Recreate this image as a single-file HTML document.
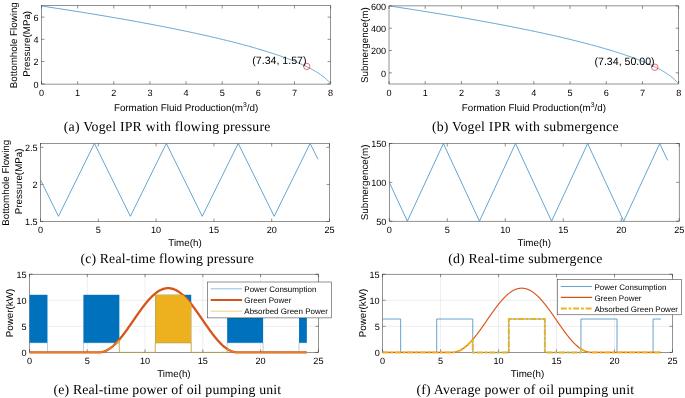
<!DOCTYPE html>
<html><head><meta charset="utf-8"><style>
html,body{margin:0;padding:0;background:#fff;}
svg{display:block;will-change:transform;}
text{font-family:"Liberation Sans", sans-serif;fill:#000;text-rendering:geometricPrecision;}
text.cap{font-family:"Liberation Serif", serif;fill:#000;}
</style></head><body>
<svg width="685" height="398" viewBox="0 0 685 398">
<rect width="685" height="398" fill="#fff"/>
<rect x="41.50" y="5.50" width="289.10" height="78.60" fill="none" stroke="#262626" stroke-width="0.5"/>
<path d="M41.50 84.10 V81.10 M41.50 5.50 V8.50" stroke="#262626" stroke-width="0.5"/>
<text x="41.50" y="93.00" font-size="9.1" text-anchor="middle" dominant-baseline="central">0</text>
<path d="M77.64 84.10 V81.10 M77.64 5.50 V8.50" stroke="#262626" stroke-width="0.5"/>
<text x="77.64" y="93.00" font-size="9.1" text-anchor="middle" dominant-baseline="central">1</text>
<path d="M113.78 84.10 V81.10 M113.78 5.50 V8.50" stroke="#262626" stroke-width="0.5"/>
<text x="113.78" y="93.00" font-size="9.1" text-anchor="middle" dominant-baseline="central">2</text>
<path d="M149.91 84.10 V81.10 M149.91 5.50 V8.50" stroke="#262626" stroke-width="0.5"/>
<text x="149.91" y="93.00" font-size="9.1" text-anchor="middle" dominant-baseline="central">3</text>
<path d="M186.05 84.10 V81.10 M186.05 5.50 V8.50" stroke="#262626" stroke-width="0.5"/>
<text x="186.05" y="93.00" font-size="9.1" text-anchor="middle" dominant-baseline="central">4</text>
<path d="M222.19 84.10 V81.10 M222.19 5.50 V8.50" stroke="#262626" stroke-width="0.5"/>
<text x="222.19" y="93.00" font-size="9.1" text-anchor="middle" dominant-baseline="central">5</text>
<path d="M258.33 84.10 V81.10 M258.33 5.50 V8.50" stroke="#262626" stroke-width="0.5"/>
<text x="258.33" y="93.00" font-size="9.1" text-anchor="middle" dominant-baseline="central">6</text>
<path d="M294.46 84.10 V81.10 M294.46 5.50 V8.50" stroke="#262626" stroke-width="0.5"/>
<text x="294.46" y="93.00" font-size="9.1" text-anchor="middle" dominant-baseline="central">7</text>
<path d="M330.60 84.10 V81.10 M330.60 5.50 V8.50" stroke="#262626" stroke-width="0.5"/>
<text x="330.60" y="93.00" font-size="9.1" text-anchor="middle" dominant-baseline="central">8</text>
<path d="M41.50 83.80 H44.50 M330.60 83.80 H327.60" stroke="#262626" stroke-width="0.5"/>
<text x="38.60" y="84.60" font-size="9.1" text-anchor="end" dominant-baseline="central">0</text>
<path d="M41.50 61.57 H44.50 M330.60 61.57 H327.60" stroke="#262626" stroke-width="0.5"/>
<text x="38.60" y="62.37" font-size="9.1" text-anchor="end" dominant-baseline="central">2</text>
<path d="M41.50 39.34 H44.50 M330.60 39.34 H327.60" stroke="#262626" stroke-width="0.5"/>
<text x="38.60" y="40.14" font-size="9.1" text-anchor="end" dominant-baseline="central">4</text>
<path d="M41.50 17.11 H44.50 M330.60 17.11 H327.60" stroke="#262626" stroke-width="0.5"/>
<text x="38.60" y="17.91" font-size="9.1" text-anchor="end" dominant-baseline="central">6</text>
<path d="M41.50 6.00 L43.66 6.32 L45.82 6.65 L47.97 6.97 L50.11 7.30 L52.24 7.62 L54.36 7.95 L56.48 8.27 L58.59 8.59 L60.69 8.92 L62.78 9.24 L64.86 9.57 L66.94 9.89 L69.01 10.21 L71.07 10.54 L73.12 10.86 L75.16 11.19 L77.20 11.51 L79.23 11.83 L81.25 12.16 L83.26 12.48 L85.26 12.81 L87.26 13.13 L89.25 13.46 L91.23 13.78 L93.20 14.10 L95.16 14.43 L97.12 14.75 L99.06 15.08 L101.00 15.40 L102.93 15.72 L104.86 16.05 L106.77 16.37 L108.68 16.70 L110.58 17.02 L112.47 17.35 L114.35 17.67 L116.23 17.99 L118.10 18.32 L119.95 18.64 L121.81 18.97 L123.65 19.29 L125.48 19.62 L127.31 19.94 L129.13 20.26 L130.94 20.59 L132.74 20.91 L134.54 21.24 L136.32 21.56 L138.10 21.88 L139.87 22.21 L141.64 22.53 L143.39 22.86 L145.14 23.18 L146.88 23.50 L148.61 23.83 L150.33 24.15 L152.04 24.48 L153.75 24.80 L155.45 25.13 L157.14 25.45 L158.82 25.77 L160.50 26.10 L162.16 26.42 L163.82 26.75 L165.47 27.07 L167.11 27.40 L168.75 27.72 L170.37 28.04 L171.99 28.37 L173.60 28.69 L175.20 29.02 L176.80 29.34 L178.38 29.66 L179.96 29.99 L181.53 30.31 L183.09 30.64 L184.65 30.96 L186.19 31.28 L187.73 31.61 L189.26 31.93 L190.78 32.26 L192.30 32.58 L193.80 32.91 L195.30 33.23 L196.79 33.55 L198.27 33.88 L199.75 34.20 L201.21 34.53 L202.67 34.85 L204.12 35.17 L205.56 35.50 L206.99 35.82 L208.42 36.15 L209.84 36.47 L211.25 36.80 L212.65 37.12 L214.04 37.44 L215.43 37.77 L216.80 38.09 L218.17 38.42 L219.53 38.74 L220.89 39.07 L222.23 39.39 L223.57 39.71 L224.90 40.04 L226.22 40.36 L227.53 40.69 L228.84 41.01 L230.13 41.33 L231.42 41.66 L232.70 41.98 L233.98 42.31 L235.24 42.63 L236.50 42.95 L237.75 43.28 L238.99 43.60 L240.22 43.93 L241.44 44.25 L242.66 44.58 L243.87 44.90 L245.07 45.22 L246.26 45.55 L247.45 45.87 L248.62 46.20 L249.79 46.52 L250.95 46.84 L252.11 47.17 L253.25 47.49 L254.39 47.82 L255.51 48.14 L256.63 48.47 L257.75 48.79 L258.85 49.11 L259.95 49.44 L261.04 49.76 L262.12 50.09 L263.19 50.41 L264.25 50.73 L265.31 51.06 L266.36 51.38 L267.40 51.71 L268.43 52.03 L269.45 52.36 L270.47 52.68 L271.48 53.00 L272.47 53.33 L273.47 53.65 L274.45 53.98 L275.43 54.30 L276.39 54.62 L277.35 54.95 L278.31 55.27 L279.25 55.60 L280.18 55.92 L281.11 56.25 L282.03 56.57 L282.94 56.89 L283.85 57.22 L284.74 57.54 L285.63 57.87 L286.51 58.19 L287.38 58.52 L288.24 58.84 L289.10 59.16 L289.95 59.49 L290.78 59.81 L291.62 60.14 L292.44 60.46 L293.25 60.78 L294.06 61.11 L294.86 61.43 L295.65 61.76 L296.43 62.08 L297.21 62.41 L297.98 62.73 L298.73 63.05 L299.49 63.38 L300.23 63.70 L300.96 64.03 L301.69 64.35 L302.41 64.67 L303.12 65.00 L303.82 65.32 L304.52 65.65 L305.20 65.97 L305.88 66.30 L306.55 66.62 L307.22 66.94 L307.87 67.27 L308.52 67.59 L309.15 67.92 L309.78 68.24 L310.41 68.56 L311.02 68.89 L311.63 69.21 L312.23 69.54 L312.82 69.86 L313.40 70.18 L313.97 70.51 L314.54 70.83 L315.10 71.16 L315.65 71.48 L316.19 71.81 L316.72 72.13 L317.25 72.45 L317.77 72.78 L318.28 73.10 L318.78 73.43 L319.27 73.75 L319.76 74.08 L320.24 74.40 L320.71 74.72 L321.17 75.05 L321.62 75.37 L322.07 75.70 L322.51 76.02 L322.93 76.34 L323.36 76.67 L323.77 76.99 L324.18 77.32 L324.57 77.64 L324.96 77.97 L325.34 78.29 L325.72 78.61 L326.08 78.94 L326.44 79.26 L326.79 79.59 L327.13 79.91 L327.46 80.23 L327.79 80.56 L328.11 80.88 L328.42 81.21 L328.72 81.53 L329.01 81.85 L329.30 82.18 L329.57 82.50 L329.84 82.83 L330.10 83.15 L330.36 83.48 L330.60 83.80" fill="none" stroke="#3f8dc3" stroke-width="0.8" stroke-linejoin="round" />
<circle cx="306.75" cy="66.35" r="3.2" fill="none" stroke="#ff0000" stroke-width="0.6"/>
<text x="252.3" y="64.0" font-size="10.6">(7.34, 1.57)</text>
<text transform="translate(16.90 45.20) rotate(-90)" font-size="9.8" text-anchor="middle">Bottomhole Flowing</text>
<text transform="translate(29.60 43.80) rotate(-90)" font-size="9.8" text-anchor="middle">Pressure(MPa)</text>
<text x="186.05" y="111.40" font-size="9.8" text-anchor="middle">Formation Fluid Production(m<tspan font-size="6.8" dy="-4.2">3</tspan><tspan dy="4.2">/d)</tspan></text>
<text x="63.78" y="131.10" class="cap" font-size="13.8" textLength="206.66" lengthAdjust="spacing">(a) Vogel IPR with flowing pressure</text>
<rect x="389.00" y="5.90" width="289.70" height="78.10" fill="none" stroke="#262626" stroke-width="0.5"/>
<path d="M389.00 84.00 V81.00 M389.00 5.90 V8.90" stroke="#262626" stroke-width="0.5"/>
<text x="389.00" y="92.90" font-size="9.1" text-anchor="middle" dominant-baseline="central">0</text>
<path d="M425.21 84.00 V81.00 M425.21 5.90 V8.90" stroke="#262626" stroke-width="0.5"/>
<text x="425.21" y="92.90" font-size="9.1" text-anchor="middle" dominant-baseline="central">1</text>
<path d="M461.43 84.00 V81.00 M461.43 5.90 V8.90" stroke="#262626" stroke-width="0.5"/>
<text x="461.43" y="92.90" font-size="9.1" text-anchor="middle" dominant-baseline="central">2</text>
<path d="M497.64 84.00 V81.00 M497.64 5.90 V8.90" stroke="#262626" stroke-width="0.5"/>
<text x="497.64" y="92.90" font-size="9.1" text-anchor="middle" dominant-baseline="central">3</text>
<path d="M533.85 84.00 V81.00 M533.85 5.90 V8.90" stroke="#262626" stroke-width="0.5"/>
<text x="533.85" y="92.90" font-size="9.1" text-anchor="middle" dominant-baseline="central">4</text>
<path d="M570.06 84.00 V81.00 M570.06 5.90 V8.90" stroke="#262626" stroke-width="0.5"/>
<text x="570.06" y="92.90" font-size="9.1" text-anchor="middle" dominant-baseline="central">5</text>
<path d="M606.28 84.00 V81.00 M606.28 5.90 V8.90" stroke="#262626" stroke-width="0.5"/>
<text x="606.28" y="92.90" font-size="9.1" text-anchor="middle" dominant-baseline="central">6</text>
<path d="M642.49 84.00 V81.00 M642.49 5.90 V8.90" stroke="#262626" stroke-width="0.5"/>
<text x="642.49" y="92.90" font-size="9.1" text-anchor="middle" dominant-baseline="central">7</text>
<path d="M678.70 84.00 V81.00 M678.70 5.90 V8.90" stroke="#262626" stroke-width="0.5"/>
<text x="678.70" y="92.90" font-size="9.1" text-anchor="middle" dominant-baseline="central">8</text>
<path d="M389.00 72.84 H392.00 M678.70 72.84 H675.70" stroke="#262626" stroke-width="0.5"/>
<text x="386.10" y="73.64" font-size="9.1" text-anchor="end" dominant-baseline="central">0</text>
<path d="M389.00 50.53 H392.00 M678.70 50.53 H675.70" stroke="#262626" stroke-width="0.5"/>
<text x="386.10" y="51.33" font-size="9.1" text-anchor="end" dominant-baseline="central">200</text>
<path d="M389.00 28.21 H392.00 M678.70 28.21 H675.70" stroke="#262626" stroke-width="0.5"/>
<text x="386.10" y="29.01" font-size="9.1" text-anchor="end" dominant-baseline="central">400</text>
<path d="M389.00 5.90 H392.00 M678.70 5.90 H675.70" stroke="#262626" stroke-width="0.5"/>
<text x="386.10" y="6.70" font-size="9.1" text-anchor="end" dominant-baseline="central">600</text>
<path d="M389.00 5.90 L391.17 6.23 L393.33 6.55 L395.48 6.88 L397.63 7.20 L399.76 7.53 L401.89 7.85 L404.01 8.18 L406.12 8.50 L408.23 8.83 L410.33 9.15 L412.41 9.48 L414.49 9.81 L416.57 10.13 L418.63 10.46 L420.69 10.78 L422.73 11.11 L424.77 11.43 L426.81 11.76 L428.83 12.08 L430.85 12.41 L432.85 12.73 L434.85 13.06 L436.84 13.38 L438.83 13.71 L440.80 14.04 L442.77 14.36 L444.73 14.69 L446.68 15.01 L448.63 15.34 L450.56 15.66 L452.49 15.99 L454.41 16.31 L456.32 16.64 L458.22 16.96 L460.12 17.29 L462.00 17.62 L463.88 17.94 L465.75 18.27 L467.62 18.59 L469.47 18.92 L471.32 19.24 L473.16 19.57 L474.99 19.89 L476.81 20.22 L478.63 20.54 L480.43 20.87 L482.23 21.19 L484.02 21.52 L485.80 21.85 L487.58 22.17 L489.34 22.50 L491.10 22.82 L492.85 23.15 L494.60 23.47 L496.33 23.80 L498.06 24.12 L499.77 24.45 L501.48 24.77 L503.19 25.10 L504.88 25.43 L506.57 25.75 L508.24 26.08 L509.91 26.40 L511.58 26.73 L513.23 27.05 L514.87 27.38 L516.51 27.70 L518.14 28.03 L519.76 28.35 L521.38 28.68 L522.98 29.00 L524.58 29.33 L526.17 29.66 L527.75 29.98 L529.32 30.31 L530.89 30.63 L532.45 30.96 L533.99 31.28 L535.54 31.61 L537.07 31.93 L538.59 32.26 L540.11 32.58 L541.62 32.91 L543.12 33.23 L544.61 33.56 L546.10 33.89 L547.57 34.21 L549.04 34.54 L550.50 34.86 L551.96 35.19 L553.40 35.51 L554.84 35.84 L556.27 36.16 L557.69 36.49 L559.10 36.81 L560.50 37.14 L561.90 37.47 L563.29 37.79 L564.67 38.12 L566.04 38.44 L567.40 38.77 L568.76 39.09 L570.11 39.42 L571.45 39.74 L572.78 40.07 L574.10 40.39 L575.42 40.72 L576.73 41.05 L578.03 41.37 L579.32 41.70 L580.60 42.02 L581.88 42.35 L583.14 42.67 L584.40 43.00 L585.65 43.32 L586.90 43.65 L588.13 43.97 L589.36 44.30 L590.58 44.62 L591.79 44.95 L592.99 45.28 L594.19 45.60 L595.38 45.93 L596.55 46.25 L597.72 46.58 L598.89 46.90 L600.04 47.23 L601.19 47.55 L602.33 47.88 L603.46 48.20 L604.58 48.53 L605.70 48.86 L606.80 49.18 L607.90 49.51 L608.99 49.83 L610.07 50.16 L611.15 50.48 L612.21 50.81 L613.27 51.13 L614.32 51.46 L615.36 51.78 L616.40 52.11 L617.42 52.43 L618.44 52.76 L619.45 53.09 L620.45 53.41 L621.45 53.74 L622.43 54.06 L623.41 54.39 L624.38 54.71 L625.34 55.04 L626.30 55.36 L627.24 55.69 L628.18 56.01 L629.11 56.34 L630.03 56.67 L630.94 56.99 L631.85 57.32 L632.75 57.64 L633.64 57.97 L634.52 58.29 L635.39 58.62 L636.25 58.94 L637.11 59.27 L637.96 59.59 L638.80 59.92 L639.63 60.24 L640.46 60.57 L641.28 60.90 L642.09 61.22 L642.89 61.55 L643.68 61.87 L644.46 62.20 L645.24 62.52 L646.01 62.85 L646.77 63.17 L647.52 63.50 L648.27 63.82 L649.00 64.15 L649.73 64.47 L650.45 64.80 L651.16 65.13 L651.87 65.45 L652.56 65.78 L653.25 66.10 L653.93 66.43 L654.60 66.75 L655.27 67.08 L655.92 67.40 L656.57 67.73 L657.21 68.05 L657.84 68.38 L658.47 68.71 L659.08 69.03 L659.69 69.36 L660.29 69.68 L660.88 70.01 L661.46 70.33 L662.04 70.66 L662.61 70.98 L663.16 71.31 L663.72 71.63 L664.26 71.96 L664.79 72.28 L665.32 72.61 L665.84 72.94 L666.35 73.26 L666.85 73.59 L667.35 73.91 L667.84 74.24 L668.32 74.56 L668.79 74.89 L669.25 75.21 L669.70 75.54 L670.15 75.86 L670.59 76.19 L671.02 76.52 L671.44 76.84 L671.86 77.17 L672.26 77.49 L672.66 77.82 L673.05 78.14 L673.43 78.47 L673.81 78.79 L674.17 79.12 L674.53 79.44 L674.88 79.77 L675.22 80.09 L675.56 80.42 L675.88 80.75 L676.20 81.07 L676.51 81.40 L676.81 81.72 L677.11 82.05 L677.39 82.37 L677.67 82.70 L677.94 83.02 L678.20 83.35 L678.45 83.67 L678.70 84.00" fill="none" stroke="#3f8dc3" stroke-width="0.8" stroke-linejoin="round" />
<circle cx="654.80" cy="67.26" r="3.2" fill="none" stroke="#ff0000" stroke-width="0.6"/>
<text x="594.5" y="65.0" font-size="10.6">(7.34, 50.00)</text>
<text transform="translate(367.80 45.20) rotate(-90)" font-size="9.8" text-anchor="middle">Submergence(m)</text>
<text x="533.85" y="111.40" font-size="9.8" text-anchor="middle">Formation Fluid Production(m<tspan font-size="6.8" dy="-4.2">3</tspan><tspan dy="4.2">/d)</tspan></text>
<text x="431.88" y="131.20" class="cap" font-size="13.8" textLength="186.67" lengthAdjust="spacing">(b) Vogel IPR with submergence</text>
<rect x="40.50" y="143.40" width="289.00" height="78.10" fill="none" stroke="#262626" stroke-width="0.5"/>
<path d="M40.50 221.50 V218.50 M40.50 143.40 V146.40" stroke="#262626" stroke-width="0.5"/>
<text x="40.50" y="230.40" font-size="9.1" text-anchor="middle" dominant-baseline="central">0</text>
<path d="M98.30 221.50 V218.50 M98.30 143.40 V146.40" stroke="#262626" stroke-width="0.5"/>
<text x="98.30" y="230.40" font-size="9.1" text-anchor="middle" dominant-baseline="central">5</text>
<path d="M156.10 221.50 V218.50 M156.10 143.40 V146.40" stroke="#262626" stroke-width="0.5"/>
<text x="156.10" y="230.40" font-size="9.1" text-anchor="middle" dominant-baseline="central">10</text>
<path d="M213.90 221.50 V218.50 M213.90 143.40 V146.40" stroke="#262626" stroke-width="0.5"/>
<text x="213.90" y="230.40" font-size="9.1" text-anchor="middle" dominant-baseline="central">15</text>
<path d="M271.70 221.50 V218.50 M271.70 143.40 V146.40" stroke="#262626" stroke-width="0.5"/>
<text x="271.70" y="230.40" font-size="9.1" text-anchor="middle" dominant-baseline="central">20</text>
<path d="M329.50 221.50 V218.50 M329.50 143.40 V146.40" stroke="#262626" stroke-width="0.5"/>
<text x="329.50" y="230.40" font-size="9.1" text-anchor="middle" dominant-baseline="central">25</text>
<path d="M40.50 221.50 H43.50 M329.50 221.50 H326.50" stroke="#262626" stroke-width="0.5"/>
<text x="37.60" y="222.30" font-size="9.1" text-anchor="end" dominant-baseline="central">1.5</text>
<path d="M40.50 184.42 H43.50 M329.50 184.42 H326.50" stroke="#262626" stroke-width="0.5"/>
<text x="37.60" y="185.22" font-size="9.1" text-anchor="end" dominant-baseline="central">2</text>
<path d="M40.50 147.33 H43.50 M329.50 147.33 H326.50" stroke="#262626" stroke-width="0.5"/>
<text x="37.60" y="148.13" font-size="9.1" text-anchor="end" dominant-baseline="central">2.5</text>
<path d="M40.50 179.85 L58.48 216.31 L94.43 143.40 L130.38 216.31 L166.33 143.40 L202.28 216.31 L238.23 143.40 L274.19 216.31 L310.14 143.40 L317.94 159.22" fill="none" stroke="#3f8dc3" stroke-width="0.8" stroke-linejoin="round" />
<text transform="translate(8.80 182.80) rotate(-90)" font-size="9.8" text-anchor="middle">Bottomhole Flowing</text>
<text transform="translate(21.50 181.40) rotate(-90)" font-size="9.8" text-anchor="middle">Pressure(MPa)</text>
<text x="185.00" y="245.90" font-size="9.8" text-anchor="middle">Time(h)</text>
<text x="80.38" y="263.30" class="cap" font-size="13.8" textLength="173.39" lengthAdjust="spacing">(c) Real-time flowing pressure</text>
<rect x="389.30" y="143.50" width="289.90" height="77.70" fill="none" stroke="#262626" stroke-width="0.5"/>
<path d="M389.30 221.20 V218.20 M389.30 143.50 V146.50" stroke="#262626" stroke-width="0.5"/>
<text x="389.30" y="230.10" font-size="9.1" text-anchor="middle" dominant-baseline="central">0</text>
<path d="M447.28 221.20 V218.20 M447.28 143.50 V146.50" stroke="#262626" stroke-width="0.5"/>
<text x="447.28" y="230.10" font-size="9.1" text-anchor="middle" dominant-baseline="central">5</text>
<path d="M505.26 221.20 V218.20 M505.26 143.50 V146.50" stroke="#262626" stroke-width="0.5"/>
<text x="505.26" y="230.10" font-size="9.1" text-anchor="middle" dominant-baseline="central">10</text>
<path d="M563.24 221.20 V218.20 M563.24 143.50 V146.50" stroke="#262626" stroke-width="0.5"/>
<text x="563.24" y="230.10" font-size="9.1" text-anchor="middle" dominant-baseline="central">15</text>
<path d="M621.22 221.20 V218.20 M621.22 143.50 V146.50" stroke="#262626" stroke-width="0.5"/>
<text x="621.22" y="230.10" font-size="9.1" text-anchor="middle" dominant-baseline="central">20</text>
<path d="M679.20 221.20 V218.20 M679.20 143.50 V146.50" stroke="#262626" stroke-width="0.5"/>
<text x="679.20" y="230.10" font-size="9.1" text-anchor="middle" dominant-baseline="central">25</text>
<path d="M389.30 221.20 H392.30 M679.20 221.20 H676.20" stroke="#262626" stroke-width="0.5"/>
<text x="386.40" y="222.00" font-size="9.1" text-anchor="end" dominant-baseline="central">50</text>
<path d="M389.30 182.35 H392.30 M679.20 182.35 H676.20" stroke="#262626" stroke-width="0.5"/>
<text x="386.40" y="183.15" font-size="9.1" text-anchor="end" dominant-baseline="central">100</text>
<path d="M389.30 143.50 H392.30 M679.20 143.50 H676.20" stroke="#262626" stroke-width="0.5"/>
<text x="386.40" y="144.30" font-size="9.1" text-anchor="end" dominant-baseline="central">150</text>
<path d="M389.30 182.35 L407.33 221.20 L443.40 143.50 L479.46 221.20 L515.52 143.50 L551.59 221.20 L587.65 143.50 L623.71 221.20 L659.78 143.50 L667.60 160.36" fill="none" stroke="#3f8dc3" stroke-width="0.8" stroke-linejoin="round" />
<text transform="translate(368.00 182.40) rotate(-90)" font-size="9.8" text-anchor="middle">Submergence(m)</text>
<text x="534.25" y="245.90" font-size="9.8" text-anchor="middle">Time(h)</text>
<text x="448.18" y="263.30" class="cap" font-size="13.8" textLength="154.30" lengthAdjust="spacing">(d) Real-time submergence</text>
<line x1="87.28" y1="274.20" x2="87.28" y2="352.40" stroke="#e3e3e3" stroke-width="0.6"/>
<line x1="145.06" y1="274.20" x2="145.06" y2="352.40" stroke="#e3e3e3" stroke-width="0.6"/>
<line x1="202.84" y1="274.20" x2="202.84" y2="352.40" stroke="#e3e3e3" stroke-width="0.6"/>
<line x1="260.62" y1="274.20" x2="260.62" y2="352.40" stroke="#e3e3e3" stroke-width="0.6"/>
<line x1="29.50" y1="326.33" x2="318.40" y2="326.33" stroke="#e3e3e3" stroke-width="0.6"/>
<line x1="29.50" y1="300.27" x2="318.40" y2="300.27" stroke="#e3e3e3" stroke-width="0.6"/>
<rect x="29.50" y="274.20" width="288.90" height="78.20" fill="none" stroke="#262626" stroke-width="0.5"/>
<path d="M29.50 352.40 V349.40 M29.50 274.20 V277.20" stroke="#262626" stroke-width="0.5"/>
<text x="29.50" y="361.30" font-size="9.1" text-anchor="middle" dominant-baseline="central">0</text>
<path d="M87.28 352.40 V349.40 M87.28 274.20 V277.20" stroke="#262626" stroke-width="0.5"/>
<text x="87.28" y="361.30" font-size="9.1" text-anchor="middle" dominant-baseline="central">5</text>
<path d="M145.06 352.40 V349.40 M145.06 274.20 V277.20" stroke="#262626" stroke-width="0.5"/>
<text x="145.06" y="361.30" font-size="9.1" text-anchor="middle" dominant-baseline="central">10</text>
<path d="M202.84 352.40 V349.40 M202.84 274.20 V277.20" stroke="#262626" stroke-width="0.5"/>
<text x="202.84" y="361.30" font-size="9.1" text-anchor="middle" dominant-baseline="central">15</text>
<path d="M260.62 352.40 V349.40 M260.62 274.20 V277.20" stroke="#262626" stroke-width="0.5"/>
<text x="260.62" y="361.30" font-size="9.1" text-anchor="middle" dominant-baseline="central">20</text>
<path d="M318.40 352.40 V349.40 M318.40 274.20 V277.20" stroke="#262626" stroke-width="0.5"/>
<text x="318.40" y="361.30" font-size="9.1" text-anchor="middle" dominant-baseline="central">25</text>
<path d="M29.50 352.40 H32.50 M318.40 352.40 H315.40" stroke="#262626" stroke-width="0.5"/>
<text x="26.60" y="353.20" font-size="9.1" text-anchor="end" dominant-baseline="central">0</text>
<path d="M29.50 326.33 H32.50 M318.40 326.33 H315.40" stroke="#262626" stroke-width="0.5"/>
<text x="26.60" y="327.13" font-size="9.1" text-anchor="end" dominant-baseline="central">5</text>
<path d="M29.50 300.27 H32.50 M318.40 300.27 H315.40" stroke="#262626" stroke-width="0.5"/>
<text x="26.60" y="301.07" font-size="9.1" text-anchor="end" dominant-baseline="central">10</text>
<path d="M29.50 274.20 H32.50 M318.40 274.20 H315.40" stroke="#262626" stroke-width="0.5"/>
<text x="26.60" y="275.00" font-size="9.1" text-anchor="end" dominant-baseline="central">15</text>
<rect x="29.50" y="294.79" width="17.97" height="47.96" fill="#0072BD"/>
<rect x="83.41" y="294.79" width="35.94" height="47.96" fill="#0072BD"/>
<rect x="155.29" y="294.79" width="35.94" height="47.96" fill="#0072BD"/>
<rect x="227.17" y="294.79" width="35.94" height="47.96" fill="#0072BD"/>
<rect x="299.04" y="294.79" width="7.80" height="47.96" fill="#0072BD"/>
<path d="M29.50 342.76 L47.47 342.76 L47.47 352.40 L83.41 352.40 L83.41 342.76 L119.35 342.76 L119.35 352.40 L155.29 352.40 L155.29 342.76 L191.23 342.76 L191.23 352.40 L227.17 352.40 L227.17 342.76 L263.10 342.76 L263.10 352.40 L299.04 352.40 L299.04 342.76 L306.84 342.76" fill="none" stroke="#0072BD" stroke-width="0.6" stroke-linejoin="round" opacity="0.55"/>
<path d="M29.50 352.40 L29.79 352.40 L30.08 352.40 L30.37 352.40 L30.66 352.40 L30.94 352.40 L31.23 352.40 L31.52 352.40 L31.81 352.40 L32.10 352.40 L32.39 352.40 L32.68 352.40 L32.97 352.40 L33.26 352.40 L33.54 352.40 L33.83 352.40 L34.12 352.40 L34.41 352.40 L34.70 352.40 L34.99 352.40 L35.28 352.40 L35.57 352.40 L35.86 352.40 L36.14 352.40 L36.43 352.40 L36.72 352.40 L37.01 352.40 L37.30 352.40 L37.59 352.40 L37.88 352.40 L38.17 352.40 L38.46 352.40 L38.74 352.40 L39.03 352.40 L39.32 352.40 L39.61 352.40 L39.90 352.40 L40.19 352.40 L40.48 352.40 L40.77 352.40 L41.06 352.40 L41.34 352.40 L41.63 352.40 L41.92 352.40 L42.21 352.40 L42.50 352.40 L42.79 352.40 L43.08 352.40 L43.37 352.40 L43.66 352.40 L43.95 352.40 L44.23 352.40 L44.52 352.40 L44.81 352.40 L45.10 352.40 L45.39 352.40 L45.68 352.40 L45.97 352.40 L46.26 352.40 L46.55 352.40 L46.83 352.40 L47.12 352.40 L47.41 352.40 L47.70 352.40 L47.99 352.40 L48.28 352.40 L48.57 352.40 L48.86 352.40 L49.15 352.40 L49.43 352.40 L49.72 352.40 L50.01 352.40 L50.30 352.40 L50.59 352.40 L50.88 352.40 L51.17 352.40 L51.46 352.40 L51.75 352.40 L52.03 352.40 L52.32 352.40 L52.61 352.40 L52.90 352.40 L53.19 352.40 L53.48 352.40 L53.77 352.40 L54.06 352.40 L54.35 352.40 L54.63 352.40 L54.92 352.40 L55.21 352.40 L55.50 352.40 L55.79 352.40 L56.08 352.40 L56.37 352.40 L56.66 352.40 L56.95 352.40 L57.23 352.40 L57.52 352.40 L57.81 352.40 L58.10 352.40 L58.39 352.40 L58.68 352.40 L58.97 352.40 L59.26 352.40 L59.55 352.40 L59.83 352.40 L60.12 352.40 L60.41 352.40 L60.70 352.40 L60.99 352.40 L61.28 352.40 L61.57 352.40 L61.86 352.40 L62.15 352.40 L62.43 352.40 L62.72 352.40 L63.01 352.40 L63.30 352.40 L63.59 352.40 L63.88 352.40 L64.17 352.40 L64.46 352.40 L64.75 352.40 L65.03 352.40 L65.32 352.40 L65.61 352.40 L65.90 352.40 L66.19 352.40 L66.48 352.40 L66.77 352.40 L67.06 352.40 L67.35 352.40 L67.63 352.40 L67.92 352.40 L68.21 352.40 L68.50 352.40 L68.79 352.40 L69.08 352.40 L69.37 352.40 L69.66 352.40 L69.95 352.40 L70.23 352.40 L70.52 352.40 L70.81 352.40 L71.10 352.40 L71.39 352.40 L71.68 352.40 L71.97 352.40 L72.26 352.40 L72.55 352.40 L72.83 352.40 L73.12 352.40 L73.41 352.40 L73.70 352.40 L73.99 352.40 L74.28 352.40 L74.57 352.40 L74.86 352.40 L75.15 352.40 L75.44 352.40 L75.72 352.40 L76.01 352.40 L76.30 352.40 L76.59 352.40 L76.88 352.40 L77.17 352.40 L77.46 352.40 L77.75 352.40 L78.04 352.40 L78.32 352.40 L78.61 352.40 L78.90 352.40 L79.19 352.40 L79.48 352.40 L79.77 352.40 L80.06 352.40 L80.35 352.40 L80.64 352.40 L80.92 352.40 L81.21 352.40 L81.50 352.40 L81.79 352.40 L82.08 352.40 L82.37 352.40 L82.66 352.40 L82.95 352.40 L83.24 352.40 L83.52 352.40 L83.81 352.40 L84.10 352.40 L84.39 352.40 L84.68 352.40 L84.97 352.40 L85.26 352.40 L85.55 352.40 L85.84 352.40 L86.12 352.40 L86.41 352.40 L86.70 352.40 L86.99 352.40 L87.28 352.40 L87.57 352.40 L87.86 352.40 L88.15 352.40 L88.44 352.40 L88.72 352.40 L89.01 352.40 L89.30 352.40 L89.59 352.40 L89.88 352.40 L90.17 352.40 L90.46 352.40 L90.75 352.40 L91.04 352.40 L91.32 352.40 L91.61 352.40 L91.90 352.40 L92.19 352.40 L92.48 352.40 L92.77 352.40 L93.06 352.40 L93.35 352.40 L93.64 352.40 L93.92 352.40 L94.21 352.40 L94.50 352.40 L94.79 352.40 L95.08 352.40 L95.37 352.40 L95.66 352.40 L95.95 352.40 L96.24 352.40 L96.52 352.40 L96.81 352.40 L97.10 352.40 L97.39 352.40 L97.68 352.40 L97.97 352.40 L98.26 352.40 L98.55 352.40 L98.84 352.40 L99.12 352.40 L99.41 352.39 L99.70 352.38 L99.99 352.36 L100.28 352.33 L100.57 352.30 L100.86 352.27 L101.15 352.22 L101.44 352.18 L101.72 352.13 L102.01 352.07 L102.30 352.00 L102.59 351.94 L102.88 351.86 L103.17 351.78 L103.46 351.70 L103.75 351.61 L104.04 351.51 L104.33 351.41 L104.61 351.31 L104.90 351.19 L105.19 351.08 L105.48 350.96 L105.77 350.83 L106.06 350.70 L106.35 350.56 L106.64 350.42 L106.93 350.27 L107.21 350.11 L107.50 349.96 L107.79 349.79 L108.08 349.62 L108.37 349.45 L108.66 349.27 L108.95 349.09 L109.24 348.90 L109.53 348.71 L109.81 348.51 L110.10 348.31 L110.39 348.10 L110.68 347.88 L110.97 347.67 L111.26 347.45 L111.55 347.22 L111.84 346.99 L112.13 346.75 L112.41 346.51 L112.70 346.27 L112.99 346.02 L113.28 345.76 L113.57 345.51 L113.86 345.24 L114.15 344.98 L114.44 344.71 L114.73 344.43 L115.01 344.15 L115.30 343.87 L115.59 343.58 L115.88 343.29 L116.17 342.99 L116.46 342.69 L116.75 342.39 L117.04 342.08 L117.33 341.77 L117.61 341.46 L117.90 341.14 L118.19 340.82 L118.48 340.50 L118.77 340.17 L119.06 339.84 L119.35 339.50 L119.64 339.16 L119.93 338.82 L120.21 338.48 L120.50 338.13 L120.79 337.78 L121.08 337.42 L121.37 337.07 L121.66 336.71 L121.95 336.34 L122.24 335.98 L122.53 335.61 L122.81 335.24 L123.10 334.87 L123.39 334.49 L123.68 334.11 L123.97 333.73 L124.26 333.35 L124.55 332.96 L124.84 332.58 L125.13 332.19 L125.41 331.79 L125.70 331.40 L125.99 331.01 L126.28 330.61 L126.57 330.21 L126.86 329.81 L127.15 329.41 L127.44 329.00 L127.73 328.60 L128.01 328.19 L128.30 327.78 L128.59 327.37 L128.88 326.96 L129.17 326.55 L129.46 326.14 L129.75 325.72 L130.04 325.31 L130.33 324.89 L130.61 324.48 L130.90 324.06 L131.19 323.64 L131.48 323.22 L131.77 322.81 L132.06 322.39 L132.35 321.97 L132.64 321.55 L132.93 321.13 L133.22 320.71 L133.50 320.29 L133.79 319.87 L134.08 319.45 L134.37 319.03 L134.66 318.61 L134.95 318.19 L135.24 317.77 L135.53 317.35 L135.82 316.93 L136.10 316.51 L136.39 316.09 L136.68 315.68 L136.97 315.26 L137.26 314.85 L137.55 314.43 L137.84 314.02 L138.13 313.61 L138.42 313.20 L138.70 312.79 L138.99 312.38 L139.28 311.97 L139.57 311.57 L139.86 311.16 L140.15 310.76 L140.44 310.36 L140.73 309.96 L141.02 309.57 L141.30 309.17 L141.59 308.78 L141.88 308.39 L142.17 308.00 L142.46 307.61 L142.75 307.22 L143.04 306.84 L143.33 306.46 L143.62 306.08 L143.90 305.71 L144.19 305.33 L144.48 304.96 L144.77 304.59 L145.06 304.23 L145.35 303.87 L145.64 303.51 L145.93 303.15 L146.22 302.80 L146.50 302.44 L146.79 302.10 L147.08 301.75 L147.37 301.41 L147.66 301.07 L147.95 300.74 L148.24 300.40 L148.53 300.08 L148.82 299.75 L149.10 299.43 L149.39 299.11 L149.68 298.80 L149.97 298.49 L150.26 298.18 L150.55 297.88 L150.84 297.58 L151.13 297.28 L151.42 296.99 L151.70 296.70 L151.99 296.42 L152.28 296.14 L152.57 295.87 L152.86 295.60 L153.15 295.33 L153.44 295.07 L153.73 294.81 L154.02 294.55 L154.30 294.30 L154.59 294.06 L154.88 293.82 L155.17 293.58 L155.46 293.35 L155.75 293.13 L156.04 292.90 L156.33 292.69 L156.62 292.47 L156.90 292.27 L157.19 292.06 L157.48 291.87 L157.77 291.67 L158.06 291.48 L158.35 291.30 L158.64 291.12 L158.93 290.95 L159.22 290.78 L159.50 290.62 L159.79 290.46 L160.08 290.30 L160.37 290.16 L160.66 290.01 L160.95 289.88 L161.24 289.74 L161.53 289.62 L161.82 289.49 L162.11 289.38 L162.39 289.27 L162.68 289.16 L162.97 289.06 L163.26 288.96 L163.55 288.87 L163.84 288.79 L164.13 288.71 L164.42 288.64 L164.71 288.57 L164.99 288.50 L165.28 288.45 L165.57 288.39 L165.86 288.35 L166.15 288.31 L166.44 288.27 L166.73 288.24 L167.02 288.22 L167.31 288.20 L167.59 288.18 L167.88 288.17 L168.17 288.17 L168.46 288.17 L168.75 288.18 L169.04 288.20 L169.33 288.22 L169.62 288.24 L169.91 288.27 L170.19 288.31 L170.48 288.35 L170.77 288.39 L171.06 288.45 L171.35 288.50 L171.64 288.57 L171.93 288.64 L172.22 288.71 L172.51 288.79 L172.79 288.87 L173.08 288.96 L173.37 289.06 L173.66 289.16 L173.95 289.27 L174.24 289.38 L174.53 289.49 L174.82 289.62 L175.11 289.74 L175.39 289.88 L175.68 290.01 L175.97 290.16 L176.26 290.30 L176.55 290.46 L176.84 290.62 L177.13 290.78 L177.42 290.95 L177.71 291.12 L177.99 291.30 L178.28 291.48 L178.57 291.67 L178.86 291.87 L179.15 292.06 L179.44 292.27 L179.73 292.47 L180.02 292.69 L180.31 292.90 L180.59 293.13 L180.88 293.35 L181.17 293.58 L181.46 293.82 L181.75 294.06 L182.04 294.30 L182.33 294.55 L182.62 294.81 L182.91 295.07 L183.19 295.33 L183.48 295.60 L183.77 295.87 L184.06 296.14 L184.35 296.42 L184.64 296.70 L184.93 296.99 L185.22 297.28 L185.51 297.58 L185.79 297.88 L186.08 298.18 L186.37 298.49 L186.66 298.80 L186.95 299.11 L187.24 299.43 L187.53 299.75 L187.82 300.08 L188.11 300.40 L188.40 300.74 L188.68 301.07 L188.97 301.41 L189.26 301.75 L189.55 302.10 L189.84 302.44 L190.13 302.80 L190.42 303.15 L190.71 303.51 L191.00 303.87 L191.28 304.23 L191.57 304.59 L191.86 304.96 L192.15 305.33 L192.44 305.71 L192.73 306.08 L193.02 306.46 L193.31 306.84 L193.60 307.22 L193.88 307.61 L194.17 308.00 L194.46 308.39 L194.75 308.78 L195.04 309.17 L195.33 309.57 L195.62 309.96 L195.91 310.36 L196.20 310.76 L196.48 311.16 L196.77 311.57 L197.06 311.97 L197.35 312.38 L197.64 312.79 L197.93 313.20 L198.22 313.61 L198.51 314.02 L198.80 314.43 L199.08 314.85 L199.37 315.26 L199.66 315.68 L199.95 316.09 L200.24 316.51 L200.53 316.93 L200.82 317.35 L201.11 317.77 L201.40 318.19 L201.68 318.61 L201.97 319.03 L202.26 319.45 L202.55 319.87 L202.84 320.29 L203.13 320.71 L203.42 321.13 L203.71 321.55 L204.00 321.97 L204.28 322.39 L204.57 322.81 L204.86 323.22 L205.15 323.64 L205.44 324.06 L205.73 324.48 L206.02 324.89 L206.31 325.31 L206.60 325.72 L206.88 326.14 L207.17 326.55 L207.46 326.96 L207.75 327.37 L208.04 327.78 L208.33 328.19 L208.62 328.60 L208.91 329.00 L209.20 329.41 L209.48 329.81 L209.77 330.21 L210.06 330.61 L210.35 331.01 L210.64 331.40 L210.93 331.79 L211.22 332.19 L211.51 332.58 L211.80 332.96 L212.08 333.35 L212.37 333.73 L212.66 334.11 L212.95 334.49 L213.24 334.87 L213.53 335.24 L213.82 335.61 L214.11 335.98 L214.40 336.34 L214.68 336.71 L214.97 337.07 L215.26 337.42 L215.55 337.78 L215.84 338.13 L216.13 338.48 L216.42 338.82 L216.71 339.16 L217.00 339.50 L217.28 339.84 L217.57 340.17 L217.86 340.50 L218.15 340.82 L218.44 341.14 L218.73 341.46 L219.02 341.77 L219.31 342.08 L219.60 342.39 L219.89 342.69 L220.17 342.99 L220.46 343.29 L220.75 343.58 L221.04 343.87 L221.33 344.15 L221.62 344.43 L221.91 344.71 L222.20 344.98 L222.49 345.24 L222.77 345.51 L223.06 345.76 L223.35 346.02 L223.64 346.27 L223.93 346.51 L224.22 346.75 L224.51 346.99 L224.80 347.22 L225.09 347.45 L225.37 347.67 L225.66 347.88 L225.95 348.10 L226.24 348.31 L226.53 348.51 L226.82 348.71 L227.11 348.90 L227.40 349.09 L227.69 349.27 L227.97 349.45 L228.26 349.62 L228.55 349.79 L228.84 349.96 L229.13 350.11 L229.42 350.27 L229.71 350.42 L230.00 350.56 L230.29 350.70 L230.57 350.83 L230.86 350.96 L231.15 351.08 L231.44 351.19 L231.73 351.31 L232.02 351.41 L232.31 351.51 L232.60 351.61 L232.89 351.70 L233.17 351.78 L233.46 351.86 L233.75 351.94 L234.04 352.00 L234.33 352.07 L234.62 352.13 L234.91 352.18 L235.20 352.22 L235.49 352.27 L235.77 352.30 L236.06 352.33 L236.35 352.36 L236.64 352.38 L236.93 352.39 L237.22 352.40 L237.51 352.40 L237.80 352.40 L238.09 352.40 L238.37 352.40 L238.66 352.40 L238.95 352.40 L239.24 352.40 L239.53 352.40 L239.82 352.40 L240.11 352.40 L240.40 352.40 L240.69 352.40 L240.97 352.40 L241.26 352.40 L241.55 352.40 L241.84 352.40 L242.13 352.40 L242.42 352.40 L242.71 352.40 L243.00 352.40 L243.29 352.40 L243.57 352.40 L243.86 352.40 L244.15 352.40 L244.44 352.40 L244.73 352.40 L245.02 352.40 L245.31 352.40 L245.60 352.40 L245.89 352.40 L246.17 352.40 L246.46 352.40 L246.75 352.40 L247.04 352.40 L247.33 352.40 L247.62 352.40 L247.91 352.40 L248.20 352.40 L248.49 352.40 L248.78 352.40 L249.06 352.40 L249.35 352.40 L249.64 352.40 L249.93 352.40 L250.22 352.40 L250.51 352.40 L250.80 352.40 L251.09 352.40 L251.38 352.40 L251.66 352.40 L251.95 352.40 L252.24 352.40 L252.53 352.40 L252.82 352.40 L253.11 352.40 L253.40 352.40 L253.69 352.40 L253.98 352.40 L254.26 352.40 L254.55 352.40 L254.84 352.40 L255.13 352.40 L255.42 352.40 L255.71 352.40 L256.00 352.40 L256.29 352.40 L256.58 352.40 L256.86 352.40 L257.15 352.40 L257.44 352.40 L257.73 352.40 L258.02 352.40 L258.31 352.40 L258.60 352.40 L258.89 352.40 L259.18 352.40 L259.46 352.40 L259.75 352.40 L260.04 352.40 L260.33 352.40 L260.62 352.40 L260.91 352.40 L261.20 352.40 L261.49 352.40 L261.78 352.40 L262.06 352.40 L262.35 352.40 L262.64 352.40 L262.93 352.40 L263.22 352.40 L263.51 352.40 L263.80 352.40 L264.09 352.40 L264.38 352.40 L264.66 352.40 L264.95 352.40 L265.24 352.40 L265.53 352.40 L265.82 352.40 L266.11 352.40 L266.40 352.40 L266.69 352.40 L266.98 352.40 L267.26 352.40 L267.55 352.40 L267.84 352.40 L268.13 352.40 L268.42 352.40 L268.71 352.40 L269.00 352.40 L269.29 352.40 L269.58 352.40 L269.86 352.40 L270.15 352.40 L270.44 352.40 L270.73 352.40 L271.02 352.40 L271.31 352.40 L271.60 352.40 L271.89 352.40 L272.18 352.40 L272.46 352.40 L272.75 352.40 L273.04 352.40 L273.33 352.40 L273.62 352.40 L273.91 352.40 L274.20 352.40 L274.49 352.40 L274.78 352.40 L275.06 352.40 L275.35 352.40 L275.64 352.40 L275.93 352.40 L276.22 352.40 L276.51 352.40 L276.80 352.40 L277.09 352.40 L277.38 352.40 L277.67 352.40 L277.95 352.40 L278.24 352.40 L278.53 352.40 L278.82 352.40 L279.11 352.40 L279.40 352.40 L279.69 352.40 L279.98 352.40 L280.27 352.40 L280.55 352.40 L280.84 352.40 L281.13 352.40 L281.42 352.40 L281.71 352.40 L282.00 352.40 L282.29 352.40 L282.58 352.40 L282.87 352.40 L283.15 352.40 L283.44 352.40 L283.73 352.40 L284.02 352.40 L284.31 352.40 L284.60 352.40 L284.89 352.40 L285.18 352.40 L285.47 352.40 L285.75 352.40 L286.04 352.40 L286.33 352.40 L286.62 352.40 L286.91 352.40 L287.20 352.40 L287.49 352.40 L287.78 352.40 L288.07 352.40 L288.35 352.40 L288.64 352.40 L288.93 352.40 L289.22 352.40 L289.51 352.40 L289.80 352.40 L290.09 352.40 L290.38 352.40 L290.67 352.40 L290.95 352.40 L291.24 352.40 L291.53 352.40 L291.82 352.40 L292.11 352.40 L292.40 352.40 L292.69 352.40 L292.98 352.40 L293.27 352.40 L293.55 352.40 L293.84 352.40 L294.13 352.40 L294.42 352.40 L294.71 352.40 L295.00 352.40 L295.29 352.40 L295.58 352.40 L295.87 352.40 L296.15 352.40 L296.44 352.40 L296.73 352.40 L297.02 352.40 L297.31 352.40 L297.60 352.40 L297.89 352.40 L298.18 352.40 L298.47 352.40 L298.75 352.40 L299.04 352.40 L299.33 352.40 L299.62 352.40 L299.91 352.40 L300.20 352.40 L300.49 352.40 L300.78 352.40 L301.07 352.40 L301.35 352.40 L301.64 352.40 L301.93 352.40 L302.22 352.40 L302.51 352.40 L302.80 352.40 L303.09 352.40 L303.38 352.40 L303.67 352.40 L303.95 352.40 L304.24 352.40 L304.53 352.40 L304.82 352.40 L305.11 352.40 L305.40 352.40 L305.69 352.40 L305.98 352.40 L306.27 352.40 L306.56 352.40 L306.84 352.40" fill="none" stroke="#D95319" stroke-width="2.3" stroke-linejoin="round" />
<path d="M116.65 342.49 L116.95 342.18 L117.25 341.85 L117.55 341.53 L117.85 341.20 L118.15 340.87 L118.45 340.53 L118.75 340.19 L119.05 339.85 L119.35 339.50 L119.35 342.76 L116.65 342.76Z" fill="#EDB120"/>
<path d="M155.29 294.79 L155.59 294.79 L155.89 294.79 L156.19 294.79 L156.49 294.79 L156.78 294.79 L157.08 294.79 L157.38 294.79 L157.68 294.79 L157.98 294.79 L158.28 294.79 L158.58 294.79 L158.88 294.79 L159.18 294.79 L159.48 294.79 L159.78 294.79 L160.08 294.79 L160.38 294.79 L160.68 294.79 L160.98 294.79 L161.28 294.79 L161.58 294.79 L161.88 294.79 L162.18 294.79 L162.47 294.79 L162.77 294.79 L163.07 294.79 L163.37 294.79 L163.67 294.79 L163.97 294.79 L164.27 294.79 L164.57 294.79 L164.87 294.79 L165.17 294.79 L165.47 294.79 L165.77 294.79 L166.07 294.79 L166.37 294.79 L166.67 294.79 L166.97 294.79 L167.27 294.79 L167.57 294.79 L167.87 294.79 L168.17 294.79 L168.46 294.79 L168.76 294.79 L169.06 294.79 L169.36 294.79 L169.66 294.79 L169.96 294.79 L170.26 294.79 L170.56 294.79 L170.86 294.79 L171.16 294.79 L171.46 294.79 L171.76 294.79 L172.06 294.79 L172.36 294.79 L172.66 294.79 L172.96 294.79 L173.26 294.79 L173.56 294.79 L173.86 294.79 L174.16 294.79 L174.45 294.79 L174.75 294.79 L175.05 294.79 L175.35 294.79 L175.65 294.79 L175.95 294.79 L176.25 294.79 L176.55 294.79 L176.85 294.79 L177.15 294.79 L177.45 294.79 L177.75 294.79 L178.05 294.79 L178.35 294.79 L178.65 294.79 L178.95 294.79 L179.25 294.79 L179.55 294.79 L179.85 294.79 L180.14 294.79 L180.44 294.79 L180.74 294.79 L181.04 294.79 L181.34 294.79 L181.64 294.79 L181.94 294.79 L182.24 294.79 L182.54 294.79 L182.84 295.01 L183.14 295.28 L183.44 295.55 L183.74 295.83 L184.04 296.12 L184.34 296.41 L184.64 296.70 L184.94 297.00 L185.24 297.30 L185.54 297.61 L185.84 297.92 L186.13 298.23 L186.43 298.55 L186.73 298.88 L187.03 299.20 L187.33 299.53 L187.63 299.87 L187.93 300.21 L188.23 300.55 L188.53 300.89 L188.83 301.24 L189.13 301.59 L189.43 301.95 L189.73 302.31 L190.03 302.67 L190.33 303.04 L190.63 303.41 L190.93 303.78 L191.23 304.16 L191.23 342.76 L155.29 342.76Z" fill="#EDB120"/>
<path d="M29.50 352.40 L29.79 352.40 L30.08 352.40 L30.37 352.40 L30.66 352.40 L30.94 352.40 L31.23 352.40 L31.52 352.40 L31.81 352.40 L32.10 352.40 L32.39 352.40 L32.68 352.40 L32.97 352.40 L33.26 352.40 L33.54 352.40 L33.83 352.40 L34.12 352.40 L34.41 352.40 L34.70 352.40 L34.99 352.40 L35.28 352.40 L35.57 352.40 L35.86 352.40 L36.14 352.40 L36.43 352.40 L36.72 352.40 L37.01 352.40 L37.30 352.40 L37.59 352.40 L37.88 352.40 L38.17 352.40 L38.46 352.40 L38.74 352.40 L39.03 352.40 L39.32 352.40 L39.61 352.40 L39.90 352.40 L40.19 352.40 L40.48 352.40 L40.77 352.40 L41.06 352.40 L41.34 352.40 L41.63 352.40 L41.92 352.40 L42.21 352.40 L42.50 352.40 L42.79 352.40 L43.08 352.40 L43.37 352.40 L43.66 352.40 L43.95 352.40 L44.23 352.40 L44.52 352.40 L44.81 352.40 L45.10 352.40 L45.39 352.40 L45.68 352.40 L45.97 352.40 L46.26 352.40 L46.55 352.40 L46.83 352.40 L47.12 352.40 L47.41 352.40 L47.47 352.40 L47.47 352.40 L47.70 352.40 L47.99 352.40 L48.28 352.40 L48.57 352.40 L48.86 352.40 L49.15 352.40 L49.43 352.40 L49.72 352.40 L50.01 352.40 L50.30 352.40 L50.59 352.40 L50.88 352.40 L51.17 352.40 L51.46 352.40 L51.75 352.40 L52.03 352.40 L52.32 352.40 L52.61 352.40 L52.90 352.40 L53.19 352.40 L53.48 352.40 L53.77 352.40 L54.06 352.40 L54.35 352.40 L54.63 352.40 L54.92 352.40 L55.21 352.40 L55.50 352.40 L55.79 352.40 L56.08 352.40 L56.37 352.40 L56.66 352.40 L56.95 352.40 L57.23 352.40 L57.52 352.40 L57.81 352.40 L58.10 352.40 L58.39 352.40 L58.68 352.40 L58.97 352.40 L59.26 352.40 L59.55 352.40 L59.83 352.40 L60.12 352.40 L60.41 352.40 L60.70 352.40 L60.99 352.40 L61.28 352.40 L61.57 352.40 L61.86 352.40 L62.15 352.40 L62.43 352.40 L62.72 352.40 L63.01 352.40 L63.30 352.40 L63.59 352.40 L63.88 352.40 L64.17 352.40 L64.46 352.40 L64.75 352.40 L65.03 352.40 L65.32 352.40 L65.61 352.40 L65.90 352.40 L66.19 352.40 L66.48 352.40 L66.77 352.40 L67.06 352.40 L67.35 352.40 L67.63 352.40 L67.92 352.40 L68.21 352.40 L68.50 352.40 L68.79 352.40 L69.08 352.40 L69.37 352.40 L69.66 352.40 L69.95 352.40 L70.23 352.40 L70.52 352.40 L70.81 352.40 L71.10 352.40 L71.39 352.40 L71.68 352.40 L71.97 352.40 L72.26 352.40 L72.55 352.40 L72.83 352.40 L73.12 352.40 L73.41 352.40 L73.70 352.40 L73.99 352.40 L74.28 352.40 L74.57 352.40 L74.86 352.40 L75.15 352.40 L75.44 352.40 L75.72 352.40 L76.01 352.40 L76.30 352.40 L76.59 352.40 L76.88 352.40 L77.17 352.40 L77.46 352.40 L77.75 352.40 L78.04 352.40 L78.32 352.40 L78.61 352.40 L78.90 352.40 L79.19 352.40 L79.48 352.40 L79.77 352.40 L80.06 352.40 L80.35 352.40 L80.64 352.40 L80.92 352.40 L81.21 352.40 L81.50 352.40 L81.79 352.40 L82.08 352.40 L82.37 352.40 L82.66 352.40 L82.95 352.40 L83.24 352.40 L83.41 352.40 L83.41 352.40 L83.52 352.40 L83.81 352.40 L84.10 352.40 L84.39 352.40 L84.68 352.40 L84.97 352.40 L85.26 352.40 L85.55 352.40 L85.84 352.40 L86.12 352.40 L86.41 352.40 L86.70 352.40 L86.99 352.40 L87.28 352.40 L87.57 352.40 L87.86 352.40 L88.15 352.40 L88.44 352.40 L88.72 352.40 L89.01 352.40 L89.30 352.40 L89.59 352.40 L89.88 352.40 L90.17 352.40 L90.46 352.40 L90.75 352.40 L91.04 352.40 L91.32 352.40 L91.61 352.40 L91.90 352.40 L92.19 352.40 L92.48 352.40 L92.77 352.40 L93.06 352.40 L93.35 352.40 L93.64 352.40 L93.92 352.40 L94.21 352.40 L94.50 352.40 L94.79 352.40 L95.08 352.40 L95.37 352.40 L95.66 352.40 L95.95 352.40 L96.24 352.40 L96.52 352.40 L96.81 352.40 L97.10 352.40 L97.39 352.40 L97.68 352.40 L97.97 352.40 L98.26 352.40 L98.55 352.40 L98.84 352.40 L99.12 352.40 L99.41 352.39 L99.70 352.38 L99.99 352.36 L100.28 352.33 L100.57 352.30 L100.86 352.27 L101.15 352.22 L101.44 352.18 L101.72 352.13 L102.01 352.07 L102.30 352.00 L102.59 351.94 L102.88 351.86 L103.17 351.78 L103.46 351.70 L103.75 351.61 L104.04 351.51 L104.33 351.41 L104.61 351.31 L104.90 351.19 L105.19 351.08 L105.48 350.96 L105.77 350.83 L106.06 350.70 L106.35 350.56 L106.64 350.42 L106.93 350.27 L107.21 350.11 L107.50 349.96 L107.79 349.79 L108.08 349.62 L108.37 349.45 L108.66 349.27 L108.95 349.09 L109.24 348.90 L109.53 348.71 L109.81 348.51 L110.10 348.31 L110.39 348.10 L110.68 347.88 L110.97 347.67 L111.26 347.45 L111.55 347.22 L111.84 346.99 L112.13 346.75 L112.41 346.51 L112.70 346.27 L112.99 346.02 L113.28 345.76 L113.57 345.51 L113.86 345.24 L114.15 344.98 L114.44 344.71 L114.73 344.43 L115.01 344.15 L115.30 343.87 L115.59 343.58 L115.88 343.29 L116.17 342.99 L116.46 342.76 L116.75 342.76 L117.04 342.76 L117.33 342.76 L117.61 342.76 L117.90 342.76 L118.19 342.76 L118.48 342.76 L118.77 342.76 L119.06 342.76 L119.35 342.76 L119.35 352.40 L119.64 352.40 L119.93 352.40 L120.21 352.40 L120.50 352.40 L120.79 352.40 L121.08 352.40 L121.37 352.40 L121.66 352.40 L121.95 352.40 L122.24 352.40 L122.53 352.40 L122.81 352.40 L123.10 352.40 L123.39 352.40 L123.68 352.40 L123.97 352.40 L124.26 352.40 L124.55 352.40 L124.84 352.40 L125.13 352.40 L125.41 352.40 L125.70 352.40 L125.99 352.40 L126.28 352.40 L126.57 352.40 L126.86 352.40 L127.15 352.40 L127.44 352.40 L127.73 352.40 L128.01 352.40 L128.30 352.40 L128.59 352.40 L128.88 352.40 L129.17 352.40 L129.46 352.40 L129.75 352.40 L130.04 352.40 L130.33 352.40 L130.61 352.40 L130.90 352.40 L131.19 352.40 L131.48 352.40 L131.77 352.40 L132.06 352.40 L132.35 352.40 L132.64 352.40 L132.93 352.40 L133.22 352.40 L133.50 352.40 L133.79 352.40 L134.08 352.40 L134.37 352.40 L134.66 352.40 L134.95 352.40 L135.24 352.40 L135.53 352.40 L135.82 352.40 L136.10 352.40 L136.39 352.40 L136.68 352.40 L136.97 352.40 L137.26 352.40 L137.55 352.40 L137.84 352.40 L138.13 352.40 L138.42 352.40 L138.70 352.40 L138.99 352.40 L139.28 352.40 L139.57 352.40 L139.86 352.40 L140.15 352.40 L140.44 352.40 L140.73 352.40 L141.02 352.40 L141.30 352.40 L141.59 352.40 L141.88 352.40 L142.17 352.40 L142.46 352.40 L142.75 352.40 L143.04 352.40 L143.33 352.40 L143.62 352.40 L143.90 352.40 L144.19 352.40 L144.48 352.40 L144.77 352.40 L145.06 352.40 L145.35 352.40 L145.64 352.40 L145.93 352.40 L146.22 352.40 L146.50 352.40 L146.79 352.40 L147.08 352.40 L147.37 352.40 L147.66 352.40 L147.95 352.40 L148.24 352.40 L148.53 352.40 L148.82 352.40 L149.10 352.40 L149.39 352.40 L149.68 352.40 L149.97 352.40 L150.26 352.40 L150.55 352.40 L150.84 352.40 L151.13 352.40 L151.42 352.40 L151.70 352.40 L151.99 352.40 L152.28 352.40 L152.57 352.40 L152.86 352.40 L153.15 352.40 L153.44 352.40 L153.73 352.40 L154.02 352.40 L154.30 352.40 L154.59 352.40 L154.88 352.40 L155.17 352.40 L155.29 352.40 L155.29 342.76 L155.46 342.76 L155.75 342.76 L156.04 342.76 L156.33 342.76 L156.62 342.76 L156.90 342.76 L157.19 342.76 L157.48 342.76 L157.77 342.76 L158.06 342.76 L158.35 342.76 L158.64 342.76 L158.93 342.76 L159.22 342.76 L159.50 342.76 L159.79 342.76 L160.08 342.76 L160.37 342.76 L160.66 342.76 L160.95 342.76 L161.24 342.76 L161.53 342.76 L161.82 342.76 L162.11 342.76 L162.39 342.76 L162.68 342.76 L162.97 342.76 L163.26 342.76 L163.55 342.76 L163.84 342.76 L164.13 342.76 L164.42 342.76 L164.71 342.76 L164.99 342.76 L165.28 342.76 L165.57 342.76 L165.86 342.76 L166.15 342.76 L166.44 342.76 L166.73 342.76 L167.02 342.76 L167.31 342.76 L167.59 342.76 L167.88 342.76 L168.17 342.76 L168.46 342.76 L168.75 342.76 L169.04 342.76 L169.33 342.76 L169.62 342.76 L169.91 342.76 L170.19 342.76 L170.48 342.76 L170.77 342.76 L171.06 342.76 L171.35 342.76 L171.64 342.76 L171.93 342.76 L172.22 342.76 L172.51 342.76 L172.79 342.76 L173.08 342.76 L173.37 342.76 L173.66 342.76 L173.95 342.76 L174.24 342.76 L174.53 342.76 L174.82 342.76 L175.11 342.76 L175.39 342.76 L175.68 342.76 L175.97 342.76 L176.26 342.76 L176.55 342.76 L176.84 342.76 L177.13 342.76 L177.42 342.76 L177.71 342.76 L177.99 342.76 L178.28 342.76 L178.57 342.76 L178.86 342.76 L179.15 342.76 L179.44 342.76 L179.73 342.76 L180.02 342.76 L180.31 342.76 L180.59 342.76 L180.88 342.76 L181.17 342.76 L181.46 342.76 L181.75 342.76 L182.04 342.76 L182.33 342.76 L182.62 342.76 L182.91 342.76 L183.19 342.76 L183.48 342.76 L183.77 342.76 L184.06 342.76 L184.35 342.76 L184.64 342.76 L184.93 342.76 L185.22 342.76 L185.51 342.76 L185.79 342.76 L186.08 342.76 L186.37 342.76 L186.66 342.76 L186.95 342.76 L187.24 342.76 L187.53 342.76 L187.82 342.76 L188.11 342.76 L188.40 342.76 L188.68 342.76 L188.97 342.76 L189.26 342.76 L189.55 342.76 L189.84 342.76 L190.13 342.76 L190.42 342.76 L190.71 342.76 L191.00 342.76 L191.23 342.76 L191.23 352.40 L191.28 352.40 L191.57 352.40 L191.86 352.40 L192.15 352.40 L192.44 352.40 L192.73 352.40 L193.02 352.40 L193.31 352.40 L193.60 352.40 L193.88 352.40 L194.17 352.40 L194.46 352.40 L194.75 352.40 L195.04 352.40 L195.33 352.40 L195.62 352.40 L195.91 352.40 L196.20 352.40 L196.48 352.40 L196.77 352.40 L197.06 352.40 L197.35 352.40 L197.64 352.40 L197.93 352.40 L198.22 352.40 L198.51 352.40 L198.80 352.40 L199.08 352.40 L199.37 352.40 L199.66 352.40 L199.95 352.40 L200.24 352.40 L200.53 352.40 L200.82 352.40 L201.11 352.40 L201.40 352.40 L201.68 352.40 L201.97 352.40 L202.26 352.40 L202.55 352.40 L202.84 352.40 L203.13 352.40 L203.42 352.40 L203.71 352.40 L204.00 352.40 L204.28 352.40 L204.57 352.40 L204.86 352.40 L205.15 352.40 L205.44 352.40 L205.73 352.40 L206.02 352.40 L206.31 352.40 L206.60 352.40 L206.88 352.40 L207.17 352.40 L207.46 352.40 L207.75 352.40 L208.04 352.40 L208.33 352.40 L208.62 352.40 L208.91 352.40 L209.20 352.40 L209.48 352.40 L209.77 352.40 L210.06 352.40 L210.35 352.40 L210.64 352.40 L210.93 352.40 L211.22 352.40 L211.51 352.40 L211.80 352.40 L212.08 352.40 L212.37 352.40 L212.66 352.40 L212.95 352.40 L213.24 352.40 L213.53 352.40 L213.82 352.40 L214.11 352.40 L214.40 352.40 L214.68 352.40 L214.97 352.40 L215.26 352.40 L215.55 352.40 L215.84 352.40 L216.13 352.40 L216.42 352.40 L216.71 352.40 L217.00 352.40 L217.28 352.40 L217.57 352.40 L217.86 352.40 L218.15 352.40 L218.44 352.40 L218.73 352.40 L219.02 352.40 L219.31 352.40 L219.60 352.40 L219.89 352.40 L220.17 352.40 L220.46 352.40 L220.75 352.40 L221.04 352.40 L221.33 352.40 L221.62 352.40 L221.91 352.40 L222.20 352.40 L222.49 352.40 L222.77 352.40 L223.06 352.40 L223.35 352.40 L223.64 352.40 L223.93 352.40 L224.22 352.40 L224.51 352.40 L224.80 352.40 L225.09 352.40 L225.37 352.40 L225.66 352.40 L225.95 352.40 L226.24 352.40 L226.53 352.40 L226.82 352.40 L227.11 352.40 L227.17 352.40 L227.17 348.94 L227.40 349.09 L227.69 349.27 L227.97 349.45 L228.26 349.62 L228.55 349.79 L228.84 349.96 L229.13 350.11 L229.42 350.27 L229.71 350.42 L230.00 350.56 L230.29 350.70 L230.57 350.83 L230.86 350.96 L231.15 351.08 L231.44 351.19 L231.73 351.31 L232.02 351.41 L232.31 351.51 L232.60 351.61 L232.89 351.70 L233.17 351.78 L233.46 351.86 L233.75 351.94 L234.04 352.00 L234.33 352.07 L234.62 352.13 L234.91 352.18 L235.20 352.22 L235.49 352.27 L235.77 352.30 L236.06 352.33 L236.35 352.36 L236.64 352.38 L236.93 352.39 L237.22 352.40 L237.51 352.40 L237.80 352.40 L238.09 352.40 L238.37 352.40 L238.66 352.40 L238.95 352.40 L239.24 352.40 L239.53 352.40 L239.82 352.40 L240.11 352.40 L240.40 352.40 L240.69 352.40 L240.97 352.40 L241.26 352.40 L241.55 352.40 L241.84 352.40 L242.13 352.40 L242.42 352.40 L242.71 352.40 L243.00 352.40 L243.29 352.40 L243.57 352.40 L243.86 352.40 L244.15 352.40 L244.44 352.40 L244.73 352.40 L245.02 352.40 L245.31 352.40 L245.60 352.40 L245.89 352.40 L246.17 352.40 L246.46 352.40 L246.75 352.40 L247.04 352.40 L247.33 352.40 L247.62 352.40 L247.91 352.40 L248.20 352.40 L248.49 352.40 L248.78 352.40 L249.06 352.40 L249.35 352.40 L249.64 352.40 L249.93 352.40 L250.22 352.40 L250.51 352.40 L250.80 352.40 L251.09 352.40 L251.38 352.40 L251.66 352.40 L251.95 352.40 L252.24 352.40 L252.53 352.40 L252.82 352.40 L253.11 352.40 L253.40 352.40 L253.69 352.40 L253.98 352.40 L254.26 352.40 L254.55 352.40 L254.84 352.40 L255.13 352.40 L255.42 352.40 L255.71 352.40 L256.00 352.40 L256.29 352.40 L256.58 352.40 L256.86 352.40 L257.15 352.40 L257.44 352.40 L257.73 352.40 L258.02 352.40 L258.31 352.40 L258.60 352.40 L258.89 352.40 L259.18 352.40 L259.46 352.40 L259.75 352.40 L260.04 352.40 L260.33 352.40 L260.62 352.40 L260.91 352.40 L261.20 352.40 L261.49 352.40 L261.78 352.40 L262.06 352.40 L262.35 352.40 L262.64 352.40 L262.93 352.40 L263.10 352.40 L263.10 352.40 L263.22 352.40 L263.51 352.40 L263.80 352.40 L264.09 352.40 L264.38 352.40 L264.66 352.40 L264.95 352.40 L265.24 352.40 L265.53 352.40 L265.82 352.40 L266.11 352.40 L266.40 352.40 L266.69 352.40 L266.98 352.40 L267.26 352.40 L267.55 352.40 L267.84 352.40 L268.13 352.40 L268.42 352.40 L268.71 352.40 L269.00 352.40 L269.29 352.40 L269.58 352.40 L269.86 352.40 L270.15 352.40 L270.44 352.40 L270.73 352.40 L271.02 352.40 L271.31 352.40 L271.60 352.40 L271.89 352.40 L272.18 352.40 L272.46 352.40 L272.75 352.40 L273.04 352.40 L273.33 352.40 L273.62 352.40 L273.91 352.40 L274.20 352.40 L274.49 352.40 L274.78 352.40 L275.06 352.40 L275.35 352.40 L275.64 352.40 L275.93 352.40 L276.22 352.40 L276.51 352.40 L276.80 352.40 L277.09 352.40 L277.38 352.40 L277.67 352.40 L277.95 352.40 L278.24 352.40 L278.53 352.40 L278.82 352.40 L279.11 352.40 L279.40 352.40 L279.69 352.40 L279.98 352.40 L280.27 352.40 L280.55 352.40 L280.84 352.40 L281.13 352.40 L281.42 352.40 L281.71 352.40 L282.00 352.40 L282.29 352.40 L282.58 352.40 L282.87 352.40 L283.15 352.40 L283.44 352.40 L283.73 352.40 L284.02 352.40 L284.31 352.40 L284.60 352.40 L284.89 352.40 L285.18 352.40 L285.47 352.40 L285.75 352.40 L286.04 352.40 L286.33 352.40 L286.62 352.40 L286.91 352.40 L287.20 352.40 L287.49 352.40 L287.78 352.40 L288.07 352.40 L288.35 352.40 L288.64 352.40 L288.93 352.40 L289.22 352.40 L289.51 352.40 L289.80 352.40 L290.09 352.40 L290.38 352.40 L290.67 352.40 L290.95 352.40 L291.24 352.40 L291.53 352.40 L291.82 352.40 L292.11 352.40 L292.40 352.40 L292.69 352.40 L292.98 352.40 L293.27 352.40 L293.55 352.40 L293.84 352.40 L294.13 352.40 L294.42 352.40 L294.71 352.40 L295.00 352.40 L295.29 352.40 L295.58 352.40 L295.87 352.40 L296.15 352.40 L296.44 352.40 L296.73 352.40 L297.02 352.40 L297.31 352.40 L297.60 352.40 L297.89 352.40 L298.18 352.40 L298.47 352.40 L298.75 352.40 L299.04 352.40 L299.04 352.40 L299.33 352.40 L299.62 352.40 L299.91 352.40 L300.20 352.40 L300.49 352.40 L300.78 352.40 L301.07 352.40 L301.35 352.40 L301.64 352.40 L301.93 352.40 L302.22 352.40 L302.51 352.40 L302.80 352.40 L303.09 352.40 L303.38 352.40 L303.67 352.40 L303.95 352.40 L304.24 352.40 L304.53 352.40 L304.82 352.40 L305.11 352.40 L305.40 352.40 L305.69 352.40 L305.98 352.40 L306.27 352.40 L306.56 352.40 L306.84 352.40" fill="none" stroke="#EDB120" stroke-width="1.0" stroke-linejoin="round" opacity="0.75"/>
<rect x="207.7" y="282.0" width="124.00" height="35.90" fill="#fff" stroke="#262626" stroke-width="0.5"/>
<line x1="210.7" y1="288.8" x2="242.1" y2="288.8" stroke="#0072BD" stroke-width="0.7" opacity="0.65"/>
<line x1="210.7" y1="299.9" x2="242.1" y2="299.9" stroke="#D95319" stroke-width="2.0"/>
<line x1="210.7" y1="311.2" x2="242.1" y2="311.2" stroke="#EDB120" stroke-width="0.8" opacity="0.75"/>
<text x="244.3" y="289.50" font-size="8.0" dominant-baseline="central">Power Consumption</text>
<text x="244.3" y="300.60" font-size="8.0" dominant-baseline="central">Green Power</text>
<text x="244.3" y="311.90" font-size="8.0" dominant-baseline="central">Absorbed Green Power</text>
<text transform="translate(12.80 313.00) rotate(-90)" font-size="9.8" text-anchor="middle">Power(kW)</text>
<text x="173.95" y="377.00" font-size="9.8" text-anchor="middle">Time(h)</text>
<text x="53.48" y="393.90" class="cap" font-size="13.8" textLength="227.63" lengthAdjust="spacing">(e) Real-time power of oil pumping unit</text>
<line x1="440.58" y1="274.20" x2="440.58" y2="352.40" stroke="#e3e3e3" stroke-width="0.6"/>
<line x1="498.56" y1="274.20" x2="498.56" y2="352.40" stroke="#e3e3e3" stroke-width="0.6"/>
<line x1="556.54" y1="274.20" x2="556.54" y2="352.40" stroke="#e3e3e3" stroke-width="0.6"/>
<line x1="614.52" y1="274.20" x2="614.52" y2="352.40" stroke="#e3e3e3" stroke-width="0.6"/>
<line x1="382.60" y1="326.33" x2="672.50" y2="326.33" stroke="#e3e3e3" stroke-width="0.6"/>
<line x1="382.60" y1="300.27" x2="672.50" y2="300.27" stroke="#e3e3e3" stroke-width="0.6"/>
<rect x="382.60" y="274.20" width="289.90" height="78.20" fill="none" stroke="#262626" stroke-width="0.5"/>
<path d="M382.60 352.40 V349.40 M382.60 274.20 V277.20" stroke="#262626" stroke-width="0.5"/>
<text x="382.60" y="361.30" font-size="9.1" text-anchor="middle" dominant-baseline="central">0</text>
<path d="M440.58 352.40 V349.40 M440.58 274.20 V277.20" stroke="#262626" stroke-width="0.5"/>
<text x="440.58" y="361.30" font-size="9.1" text-anchor="middle" dominant-baseline="central">5</text>
<path d="M498.56 352.40 V349.40 M498.56 274.20 V277.20" stroke="#262626" stroke-width="0.5"/>
<text x="498.56" y="361.30" font-size="9.1" text-anchor="middle" dominant-baseline="central">10</text>
<path d="M556.54 352.40 V349.40 M556.54 274.20 V277.20" stroke="#262626" stroke-width="0.5"/>
<text x="556.54" y="361.30" font-size="9.1" text-anchor="middle" dominant-baseline="central">15</text>
<path d="M614.52 352.40 V349.40 M614.52 274.20 V277.20" stroke="#262626" stroke-width="0.5"/>
<text x="614.52" y="361.30" font-size="9.1" text-anchor="middle" dominant-baseline="central">20</text>
<path d="M672.50 352.40 V349.40 M672.50 274.20 V277.20" stroke="#262626" stroke-width="0.5"/>
<text x="672.50" y="361.30" font-size="9.1" text-anchor="middle" dominant-baseline="central">25</text>
<path d="M382.60 352.40 H385.60 M672.50 352.40 H669.50" stroke="#262626" stroke-width="0.5"/>
<text x="379.70" y="353.20" font-size="9.1" text-anchor="end" dominant-baseline="central">0</text>
<path d="M382.60 326.33 H385.60 M672.50 326.33 H669.50" stroke="#262626" stroke-width="0.5"/>
<text x="379.70" y="327.13" font-size="9.1" text-anchor="end" dominant-baseline="central">5</text>
<path d="M382.60 300.27 H385.60 M672.50 300.27 H669.50" stroke="#262626" stroke-width="0.5"/>
<text x="379.70" y="301.07" font-size="9.1" text-anchor="end" dominant-baseline="central">10</text>
<path d="M382.60 274.20 H385.60 M672.50 274.20 H669.50" stroke="#262626" stroke-width="0.5"/>
<text x="379.70" y="275.00" font-size="9.1" text-anchor="end" dominant-baseline="central">15</text>
<path d="M382.60 319.03 L400.63 319.03 L400.63 352.40 L436.70 352.40 L436.70 319.03 L472.76 319.03 L472.76 352.40 L508.82 352.40 L508.82 319.03 L544.89 319.03 L544.89 352.40 L580.95 352.40 L580.95 319.03 L617.01 319.03 L617.01 352.40 L653.08 352.40 L653.08 319.03 L660.90 319.03" fill="none" stroke="#3f8dc3" stroke-width="0.8" stroke-linejoin="round" />
<path d="M382.60 352.40 L382.89 352.40 L383.18 352.40 L383.47 352.40 L383.76 352.40 L384.05 352.40 L384.34 352.40 L384.63 352.40 L384.92 352.40 L385.21 352.40 L385.50 352.40 L385.79 352.40 L386.08 352.40 L386.37 352.40 L386.66 352.40 L386.95 352.40 L387.24 352.40 L387.53 352.40 L387.82 352.40 L388.11 352.40 L388.40 352.40 L388.69 352.40 L388.98 352.40 L389.27 352.40 L389.56 352.40 L389.85 352.40 L390.14 352.40 L390.43 352.40 L390.72 352.40 L391.01 352.40 L391.30 352.40 L391.59 352.40 L391.88 352.40 L392.17 352.40 L392.46 352.40 L392.75 352.40 L393.04 352.40 L393.33 352.40 L393.62 352.40 L393.91 352.40 L394.20 352.40 L394.49 352.40 L394.78 352.40 L395.07 352.40 L395.36 352.40 L395.65 352.40 L395.94 352.40 L396.23 352.40 L396.52 352.40 L396.81 352.40 L397.10 352.40 L397.38 352.40 L397.67 352.40 L397.96 352.40 L398.25 352.40 L398.54 352.40 L398.83 352.40 L399.12 352.40 L399.41 352.40 L399.70 352.40 L399.99 352.40 L400.28 352.40 L400.57 352.40 L400.86 352.40 L401.15 352.40 L401.44 352.40 L401.73 352.40 L402.02 352.40 L402.31 352.40 L402.60 352.40 L402.89 352.40 L403.18 352.40 L403.47 352.40 L403.76 352.40 L404.05 352.40 L404.34 352.40 L404.63 352.40 L404.92 352.40 L405.21 352.40 L405.50 352.40 L405.79 352.40 L406.08 352.40 L406.37 352.40 L406.66 352.40 L406.95 352.40 L407.24 352.40 L407.53 352.40 L407.82 352.40 L408.11 352.40 L408.40 352.40 L408.69 352.40 L408.98 352.40 L409.27 352.40 L409.56 352.40 L409.85 352.40 L410.14 352.40 L410.43 352.40 L410.72 352.40 L411.01 352.40 L411.30 352.40 L411.59 352.40 L411.88 352.40 L412.17 352.40 L412.46 352.40 L412.75 352.40 L413.04 352.40 L413.33 352.40 L413.62 352.40 L413.91 352.40 L414.20 352.40 L414.49 352.40 L414.78 352.40 L415.07 352.40 L415.36 352.40 L415.65 352.40 L415.94 352.40 L416.23 352.40 L416.52 352.40 L416.81 352.40 L417.10 352.40 L417.39 352.40 L417.68 352.40 L417.97 352.40 L418.26 352.40 L418.55 352.40 L418.84 352.40 L419.13 352.40 L419.42 352.40 L419.71 352.40 L420.00 352.40 L420.29 352.40 L420.58 352.40 L420.87 352.40 L421.16 352.40 L421.45 352.40 L421.74 352.40 L422.03 352.40 L422.32 352.40 L422.61 352.40 L422.90 352.40 L423.19 352.40 L423.48 352.40 L423.77 352.40 L424.06 352.40 L424.35 352.40 L424.64 352.40 L424.93 352.40 L425.22 352.40 L425.51 352.40 L425.80 352.40 L426.09 352.40 L426.37 352.40 L426.66 352.40 L426.95 352.40 L427.24 352.40 L427.53 352.40 L427.82 352.40 L428.11 352.40 L428.40 352.40 L428.69 352.40 L428.98 352.40 L429.27 352.40 L429.56 352.40 L429.85 352.40 L430.14 352.40 L430.43 352.40 L430.72 352.40 L431.01 352.40 L431.30 352.40 L431.59 352.40 L431.88 352.40 L432.17 352.40 L432.46 352.40 L432.75 352.40 L433.04 352.40 L433.33 352.40 L433.62 352.40 L433.91 352.40 L434.20 352.40 L434.49 352.40 L434.78 352.40 L435.07 352.40 L435.36 352.40 L435.65 352.40 L435.94 352.40 L436.23 352.40 L436.52 352.40 L436.81 352.40 L437.10 352.40 L437.39 352.40 L437.68 352.40 L437.97 352.40 L438.26 352.40 L438.55 352.40 L438.84 352.40 L439.13 352.40 L439.42 352.40 L439.71 352.40 L440.00 352.40 L440.29 352.40 L440.58 352.40 L440.87 352.40 L441.16 352.40 L441.45 352.40 L441.74 352.40 L442.03 352.40 L442.32 352.40 L442.61 352.40 L442.90 352.40 L443.19 352.40 L443.48 352.40 L443.77 352.40 L444.06 352.40 L444.35 352.40 L444.64 352.40 L444.93 352.40 L445.22 352.40 L445.51 352.40 L445.80 352.40 L446.09 352.40 L446.38 352.40 L446.67 352.40 L446.96 352.40 L447.25 352.40 L447.54 352.40 L447.83 352.40 L448.12 352.40 L448.41 352.40 L448.70 352.40 L448.99 352.40 L449.28 352.40 L449.57 352.40 L449.86 352.40 L450.15 352.40 L450.44 352.40 L450.73 352.40 L451.02 352.40 L451.31 352.40 L451.60 352.40 L451.89 352.40 L452.18 352.40 L452.47 352.40 L452.76 352.39 L453.05 352.38 L453.34 352.36 L453.63 352.33 L453.92 352.30 L454.21 352.27 L454.50 352.22 L454.79 352.18 L455.08 352.13 L455.36 352.07 L455.65 352.00 L455.94 351.94 L456.23 351.86 L456.52 351.78 L456.81 351.70 L457.10 351.61 L457.39 351.51 L457.68 351.41 L457.97 351.31 L458.26 351.19 L458.55 351.08 L458.84 350.96 L459.13 350.83 L459.42 350.70 L459.71 350.56 L460.00 350.42 L460.29 350.27 L460.58 350.11 L460.87 349.96 L461.16 349.79 L461.45 349.62 L461.74 349.45 L462.03 349.27 L462.32 349.09 L462.61 348.90 L462.90 348.71 L463.19 348.51 L463.48 348.31 L463.77 348.10 L464.06 347.88 L464.35 347.67 L464.64 347.45 L464.93 347.22 L465.22 346.99 L465.51 346.75 L465.80 346.51 L466.09 346.27 L466.38 346.02 L466.67 345.76 L466.96 345.51 L467.25 345.24 L467.54 344.98 L467.83 344.71 L468.12 344.43 L468.41 344.15 L468.70 343.87 L468.99 343.58 L469.28 343.29 L469.57 342.99 L469.86 342.69 L470.15 342.39 L470.44 342.08 L470.73 341.77 L471.02 341.46 L471.31 341.14 L471.60 340.82 L471.89 340.50 L472.18 340.17 L472.47 339.84 L472.76 339.50 L473.05 339.16 L473.34 338.82 L473.63 338.48 L473.92 338.13 L474.21 337.78 L474.50 337.42 L474.79 337.07 L475.08 336.71 L475.37 336.34 L475.66 335.98 L475.95 335.61 L476.24 335.24 L476.53 334.87 L476.82 334.49 L477.11 334.11 L477.40 333.73 L477.69 333.35 L477.98 332.96 L478.27 332.58 L478.56 332.19 L478.85 331.79 L479.14 331.40 L479.43 331.01 L479.72 330.61 L480.01 330.21 L480.30 329.81 L480.59 329.41 L480.88 329.00 L481.17 328.60 L481.46 328.19 L481.75 327.78 L482.04 327.37 L482.33 326.96 L482.62 326.55 L482.91 326.14 L483.20 325.72 L483.49 325.31 L483.78 324.89 L484.06 324.48 L484.35 324.06 L484.64 323.64 L484.93 323.22 L485.22 322.81 L485.51 322.39 L485.80 321.97 L486.09 321.55 L486.38 321.13 L486.67 320.71 L486.96 320.29 L487.25 319.87 L487.54 319.45 L487.83 319.03 L488.12 318.61 L488.41 318.19 L488.70 317.77 L488.99 317.35 L489.28 316.93 L489.57 316.51 L489.86 316.09 L490.15 315.68 L490.44 315.26 L490.73 314.85 L491.02 314.43 L491.31 314.02 L491.60 313.61 L491.89 313.20 L492.18 312.79 L492.47 312.38 L492.76 311.97 L493.05 311.57 L493.34 311.16 L493.63 310.76 L493.92 310.36 L494.21 309.96 L494.50 309.57 L494.79 309.17 L495.08 308.78 L495.37 308.39 L495.66 308.00 L495.95 307.61 L496.24 307.22 L496.53 306.84 L496.82 306.46 L497.11 306.08 L497.40 305.71 L497.69 305.33 L497.98 304.96 L498.27 304.59 L498.56 304.23 L498.85 303.87 L499.14 303.51 L499.43 303.15 L499.72 302.80 L500.01 302.44 L500.30 302.10 L500.59 301.75 L500.88 301.41 L501.17 301.07 L501.46 300.74 L501.75 300.40 L502.04 300.08 L502.33 299.75 L502.62 299.43 L502.91 299.11 L503.20 298.80 L503.49 298.49 L503.78 298.18 L504.07 297.88 L504.36 297.58 L504.65 297.28 L504.94 296.99 L505.23 296.70 L505.52 296.42 L505.81 296.14 L506.10 295.87 L506.39 295.60 L506.68 295.33 L506.97 295.07 L507.26 294.81 L507.55 294.55 L507.84 294.30 L508.13 294.06 L508.42 293.82 L508.71 293.58 L509.00 293.35 L509.29 293.13 L509.58 292.90 L509.87 292.69 L510.16 292.47 L510.45 292.27 L510.74 292.06 L511.03 291.87 L511.32 291.67 L511.61 291.48 L511.90 291.30 L512.19 291.12 L512.48 290.95 L512.77 290.78 L513.06 290.62 L513.34 290.46 L513.63 290.30 L513.92 290.16 L514.21 290.01 L514.50 289.88 L514.79 289.74 L515.08 289.62 L515.37 289.49 L515.66 289.38 L515.95 289.27 L516.24 289.16 L516.53 289.06 L516.82 288.96 L517.11 288.87 L517.40 288.79 L517.69 288.71 L517.98 288.64 L518.27 288.57 L518.56 288.50 L518.85 288.45 L519.14 288.39 L519.43 288.35 L519.72 288.31 L520.01 288.27 L520.30 288.24 L520.59 288.22 L520.88 288.20 L521.17 288.18 L521.46 288.17 L521.75 288.17 L522.04 288.17 L522.33 288.18 L522.62 288.20 L522.91 288.22 L523.20 288.24 L523.49 288.27 L523.78 288.31 L524.07 288.35 L524.36 288.39 L524.65 288.45 L524.94 288.50 L525.23 288.57 L525.52 288.64 L525.81 288.71 L526.10 288.79 L526.39 288.87 L526.68 288.96 L526.97 289.06 L527.26 289.16 L527.55 289.27 L527.84 289.38 L528.13 289.49 L528.42 289.62 L528.71 289.74 L529.00 289.88 L529.29 290.01 L529.58 290.16 L529.87 290.30 L530.16 290.46 L530.45 290.62 L530.74 290.78 L531.03 290.95 L531.32 291.12 L531.61 291.30 L531.90 291.48 L532.19 291.67 L532.48 291.87 L532.77 292.06 L533.06 292.27 L533.35 292.47 L533.64 292.69 L533.93 292.90 L534.22 293.13 L534.51 293.35 L534.80 293.58 L535.09 293.82 L535.38 294.06 L535.67 294.30 L535.96 294.55 L536.25 294.81 L536.54 295.07 L536.83 295.33 L537.12 295.60 L537.41 295.87 L537.70 296.14 L537.99 296.42 L538.28 296.70 L538.57 296.99 L538.86 297.28 L539.15 297.58 L539.44 297.88 L539.73 298.18 L540.02 298.49 L540.31 298.80 L540.60 299.11 L540.89 299.43 L541.18 299.75 L541.47 300.08 L541.76 300.40 L542.05 300.74 L542.33 301.07 L542.62 301.41 L542.91 301.75 L543.20 302.10 L543.49 302.44 L543.78 302.80 L544.07 303.15 L544.36 303.51 L544.65 303.87 L544.94 304.23 L545.23 304.59 L545.52 304.96 L545.81 305.33 L546.10 305.71 L546.39 306.08 L546.68 306.46 L546.97 306.84 L547.26 307.22 L547.55 307.61 L547.84 308.00 L548.13 308.39 L548.42 308.78 L548.71 309.17 L549.00 309.57 L549.29 309.96 L549.58 310.36 L549.87 310.76 L550.16 311.16 L550.45 311.57 L550.74 311.97 L551.03 312.38 L551.32 312.79 L551.61 313.20 L551.90 313.61 L552.19 314.02 L552.48 314.43 L552.77 314.85 L553.06 315.26 L553.35 315.68 L553.64 316.09 L553.93 316.51 L554.22 316.93 L554.51 317.35 L554.80 317.77 L555.09 318.19 L555.38 318.61 L555.67 319.03 L555.96 319.45 L556.25 319.87 L556.54 320.29 L556.83 320.71 L557.12 321.13 L557.41 321.55 L557.70 321.97 L557.99 322.39 L558.28 322.81 L558.57 323.22 L558.86 323.64 L559.15 324.06 L559.44 324.48 L559.73 324.89 L560.02 325.31 L560.31 325.72 L560.60 326.14 L560.89 326.55 L561.18 326.96 L561.47 327.37 L561.76 327.78 L562.05 328.19 L562.34 328.60 L562.63 329.00 L562.92 329.41 L563.21 329.81 L563.50 330.21 L563.79 330.61 L564.08 331.01 L564.37 331.40 L564.66 331.79 L564.95 332.19 L565.24 332.58 L565.53 332.96 L565.82 333.35 L566.11 333.73 L566.40 334.11 L566.69 334.49 L566.98 334.87 L567.27 335.24 L567.56 335.61 L567.85 335.98 L568.14 336.34 L568.43 336.71 L568.72 337.07 L569.01 337.42 L569.30 337.78 L569.59 338.13 L569.88 338.48 L570.17 338.82 L570.46 339.16 L570.75 339.50 L571.04 339.84 L571.32 340.17 L571.61 340.50 L571.90 340.82 L572.19 341.14 L572.48 341.46 L572.77 341.77 L573.06 342.08 L573.35 342.39 L573.64 342.69 L573.93 342.99 L574.22 343.29 L574.51 343.58 L574.80 343.87 L575.09 344.15 L575.38 344.43 L575.67 344.71 L575.96 344.98 L576.25 345.24 L576.54 345.51 L576.83 345.76 L577.12 346.02 L577.41 346.27 L577.70 346.51 L577.99 346.75 L578.28 346.99 L578.57 347.22 L578.86 347.45 L579.15 347.67 L579.44 347.88 L579.73 348.10 L580.02 348.31 L580.31 348.51 L580.60 348.71 L580.89 348.90 L581.18 349.09 L581.47 349.27 L581.76 349.45 L582.05 349.62 L582.34 349.79 L582.63 349.96 L582.92 350.11 L583.21 350.27 L583.50 350.42 L583.79 350.56 L584.08 350.70 L584.37 350.83 L584.66 350.96 L584.95 351.08 L585.24 351.19 L585.53 351.31 L585.82 351.41 L586.11 351.51 L586.40 351.61 L586.69 351.70 L586.98 351.78 L587.27 351.86 L587.56 351.94 L587.85 352.00 L588.14 352.07 L588.43 352.13 L588.72 352.18 L589.01 352.22 L589.30 352.27 L589.59 352.30 L589.88 352.33 L590.17 352.36 L590.46 352.38 L590.75 352.39 L591.04 352.40 L591.33 352.40 L591.62 352.40 L591.91 352.40 L592.20 352.40 L592.49 352.40 L592.78 352.40 L593.07 352.40 L593.36 352.40 L593.65 352.40 L593.94 352.40 L594.23 352.40 L594.52 352.40 L594.81 352.40 L595.10 352.40 L595.39 352.40 L595.68 352.40 L595.97 352.40 L596.26 352.40 L596.55 352.40 L596.84 352.40 L597.13 352.40 L597.42 352.40 L597.71 352.40 L598.00 352.40 L598.29 352.40 L598.58 352.40 L598.87 352.40 L599.16 352.40 L599.45 352.40 L599.74 352.40 L600.02 352.40 L600.31 352.40 L600.60 352.40 L600.89 352.40 L601.18 352.40 L601.47 352.40 L601.76 352.40 L602.05 352.40 L602.34 352.40 L602.63 352.40 L602.92 352.40 L603.21 352.40 L603.50 352.40 L603.79 352.40 L604.08 352.40 L604.37 352.40 L604.66 352.40 L604.95 352.40 L605.24 352.40 L605.53 352.40 L605.82 352.40 L606.11 352.40 L606.40 352.40 L606.69 352.40 L606.98 352.40 L607.27 352.40 L607.56 352.40 L607.85 352.40 L608.14 352.40 L608.43 352.40 L608.72 352.40 L609.01 352.40 L609.30 352.40 L609.59 352.40 L609.88 352.40 L610.17 352.40 L610.46 352.40 L610.75 352.40 L611.04 352.40 L611.33 352.40 L611.62 352.40 L611.91 352.40 L612.20 352.40 L612.49 352.40 L612.78 352.40 L613.07 352.40 L613.36 352.40 L613.65 352.40 L613.94 352.40 L614.23 352.40 L614.52 352.40 L614.81 352.40 L615.10 352.40 L615.39 352.40 L615.68 352.40 L615.97 352.40 L616.26 352.40 L616.55 352.40 L616.84 352.40 L617.13 352.40 L617.42 352.40 L617.71 352.40 L618.00 352.40 L618.29 352.40 L618.58 352.40 L618.87 352.40 L619.16 352.40 L619.45 352.40 L619.74 352.40 L620.03 352.40 L620.32 352.40 L620.61 352.40 L620.90 352.40 L621.19 352.40 L621.48 352.40 L621.77 352.40 L622.06 352.40 L622.35 352.40 L622.64 352.40 L622.93 352.40 L623.22 352.40 L623.51 352.40 L623.80 352.40 L624.09 352.40 L624.38 352.40 L624.67 352.40 L624.96 352.40 L625.25 352.40 L625.54 352.40 L625.83 352.40 L626.12 352.40 L626.41 352.40 L626.70 352.40 L626.99 352.40 L627.28 352.40 L627.57 352.40 L627.86 352.40 L628.15 352.40 L628.44 352.40 L628.73 352.40 L629.01 352.40 L629.30 352.40 L629.59 352.40 L629.88 352.40 L630.17 352.40 L630.46 352.40 L630.75 352.40 L631.04 352.40 L631.33 352.40 L631.62 352.40 L631.91 352.40 L632.20 352.40 L632.49 352.40 L632.78 352.40 L633.07 352.40 L633.36 352.40 L633.65 352.40 L633.94 352.40 L634.23 352.40 L634.52 352.40 L634.81 352.40 L635.10 352.40 L635.39 352.40 L635.68 352.40 L635.97 352.40 L636.26 352.40 L636.55 352.40 L636.84 352.40 L637.13 352.40 L637.42 352.40 L637.71 352.40 L638.00 352.40 L638.29 352.40 L638.58 352.40 L638.87 352.40 L639.16 352.40 L639.45 352.40 L639.74 352.40 L640.03 352.40 L640.32 352.40 L640.61 352.40 L640.90 352.40 L641.19 352.40 L641.48 352.40 L641.77 352.40 L642.06 352.40 L642.35 352.40 L642.64 352.40 L642.93 352.40 L643.22 352.40 L643.51 352.40 L643.80 352.40 L644.09 352.40 L644.38 352.40 L644.67 352.40 L644.96 352.40 L645.25 352.40 L645.54 352.40 L645.83 352.40 L646.12 352.40 L646.41 352.40 L646.70 352.40 L646.99 352.40 L647.28 352.40 L647.57 352.40 L647.86 352.40 L648.15 352.40 L648.44 352.40 L648.73 352.40 L649.02 352.40 L649.31 352.40 L649.60 352.40 L649.89 352.40 L650.18 352.40 L650.47 352.40 L650.76 352.40 L651.05 352.40 L651.34 352.40 L651.63 352.40 L651.92 352.40 L652.21 352.40 L652.50 352.40 L652.79 352.40 L653.08 352.40 L653.37 352.40 L653.66 352.40 L653.95 352.40 L654.24 352.40 L654.53 352.40 L654.82 352.40 L655.11 352.40 L655.40 352.40 L655.69 352.40 L655.98 352.40 L656.27 352.40 L656.56 352.40 L656.85 352.40 L657.14 352.40 L657.43 352.40 L657.72 352.40 L658.00 352.40 L658.29 352.40 L658.58 352.40 L658.87 352.40 L659.16 352.40 L659.45 352.40 L659.74 352.40 L660.03 352.40 L660.32 352.40 L660.61 352.40 L660.90 352.40" fill="none" stroke="#D95319" stroke-width="1.15" stroke-linejoin="round" />
<path d="M382.60 352.40 L382.89 352.40 L383.18 352.40 L383.47 352.40 L383.76 352.40 L384.05 352.40 L384.34 352.40 L384.63 352.40 L384.92 352.40 L385.21 352.40 L385.50 352.40 L385.79 352.40 L386.08 352.40 L386.37 352.40 L386.66 352.40 L386.95 352.40 L387.24 352.40 L387.53 352.40 L387.82 352.40 L388.11 352.40 L388.40 352.40 L388.69 352.40 L388.98 352.40 L389.27 352.40 L389.56 352.40 L389.85 352.40 L390.14 352.40 L390.43 352.40 L390.72 352.40 L391.01 352.40 L391.30 352.40 L391.59 352.40 L391.88 352.40 L392.17 352.40 L392.46 352.40 L392.75 352.40 L393.04 352.40 L393.33 352.40 L393.62 352.40 L393.91 352.40 L394.20 352.40 L394.49 352.40 L394.78 352.40 L395.07 352.40 L395.36 352.40 L395.65 352.40 L395.94 352.40 L396.23 352.40 L396.52 352.40 L396.81 352.40 L397.10 352.40 L397.38 352.40 L397.67 352.40 L397.96 352.40 L398.25 352.40 L398.54 352.40 L398.83 352.40 L399.12 352.40 L399.41 352.40 L399.70 352.40 L399.99 352.40 L400.28 352.40 L400.57 352.40 L400.63 352.40 L400.63 352.40 L400.86 352.40 L401.15 352.40 L401.44 352.40 L401.73 352.40 L402.02 352.40 L402.31 352.40 L402.60 352.40 L402.89 352.40 L403.18 352.40 L403.47 352.40 L403.76 352.40 L404.05 352.40 L404.34 352.40 L404.63 352.40 L404.92 352.40 L405.21 352.40 L405.50 352.40 L405.79 352.40 L406.08 352.40 L406.37 352.40 L406.66 352.40 L406.95 352.40 L407.24 352.40 L407.53 352.40 L407.82 352.40 L408.11 352.40 L408.40 352.40 L408.69 352.40 L408.98 352.40 L409.27 352.40 L409.56 352.40 L409.85 352.40 L410.14 352.40 L410.43 352.40 L410.72 352.40 L411.01 352.40 L411.30 352.40 L411.59 352.40 L411.88 352.40 L412.17 352.40 L412.46 352.40 L412.75 352.40 L413.04 352.40 L413.33 352.40 L413.62 352.40 L413.91 352.40 L414.20 352.40 L414.49 352.40 L414.78 352.40 L415.07 352.40 L415.36 352.40 L415.65 352.40 L415.94 352.40 L416.23 352.40 L416.52 352.40 L416.81 352.40 L417.10 352.40 L417.39 352.40 L417.68 352.40 L417.97 352.40 L418.26 352.40 L418.55 352.40 L418.84 352.40 L419.13 352.40 L419.42 352.40 L419.71 352.40 L420.00 352.40 L420.29 352.40 L420.58 352.40 L420.87 352.40 L421.16 352.40 L421.45 352.40 L421.74 352.40 L422.03 352.40 L422.32 352.40 L422.61 352.40 L422.90 352.40 L423.19 352.40 L423.48 352.40 L423.77 352.40 L424.06 352.40 L424.35 352.40 L424.64 352.40 L424.93 352.40 L425.22 352.40 L425.51 352.40 L425.80 352.40 L426.09 352.40 L426.37 352.40 L426.66 352.40 L426.95 352.40 L427.24 352.40 L427.53 352.40 L427.82 352.40 L428.11 352.40 L428.40 352.40 L428.69 352.40 L428.98 352.40 L429.27 352.40 L429.56 352.40 L429.85 352.40 L430.14 352.40 L430.43 352.40 L430.72 352.40 L431.01 352.40 L431.30 352.40 L431.59 352.40 L431.88 352.40 L432.17 352.40 L432.46 352.40 L432.75 352.40 L433.04 352.40 L433.33 352.40 L433.62 352.40 L433.91 352.40 L434.20 352.40 L434.49 352.40 L434.78 352.40 L435.07 352.40 L435.36 352.40 L435.65 352.40 L435.94 352.40 L436.23 352.40 L436.52 352.40 L436.70 352.40 L436.70 352.40 L436.81 352.40 L437.10 352.40 L437.39 352.40 L437.68 352.40 L437.97 352.40 L438.26 352.40 L438.55 352.40 L438.84 352.40 L439.13 352.40 L439.42 352.40 L439.71 352.40 L440.00 352.40 L440.29 352.40 L440.58 352.40 L440.87 352.40 L441.16 352.40 L441.45 352.40 L441.74 352.40 L442.03 352.40 L442.32 352.40 L442.61 352.40 L442.90 352.40 L443.19 352.40 L443.48 352.40 L443.77 352.40 L444.06 352.40 L444.35 352.40 L444.64 352.40 L444.93 352.40 L445.22 352.40 L445.51 352.40 L445.80 352.40 L446.09 352.40 L446.38 352.40 L446.67 352.40 L446.96 352.40 L447.25 352.40 L447.54 352.40 L447.83 352.40 L448.12 352.40 L448.41 352.40 L448.70 352.40 L448.99 352.40 L449.28 352.40 L449.57 352.40 L449.86 352.40 L450.15 352.40 L450.44 352.40 L450.73 352.40 L451.02 352.40 L451.31 352.40 L451.60 352.40 L451.89 352.40 L452.18 352.40 L452.47 352.40 L452.76 352.39 L453.05 352.38 L453.34 352.36 L453.63 352.33 L453.92 352.30 L454.21 352.27 L454.50 352.22 L454.79 352.18 L455.08 352.13 L455.36 352.07 L455.65 352.00 L455.94 351.94 L456.23 351.86 L456.52 351.78 L456.81 351.70 L457.10 351.61 L457.39 351.51 L457.68 351.41 L457.97 351.31 L458.26 351.19 L458.55 351.08 L458.84 350.96 L459.13 350.83 L459.42 350.70 L459.71 350.56 L460.00 350.42 L460.29 350.27 L460.58 350.11 L460.87 349.96 L461.16 349.79 L461.45 349.62 L461.74 349.45 L462.03 349.27 L462.32 349.09 L462.61 348.90 L462.90 348.71 L463.19 348.51 L463.48 348.31 L463.77 348.10 L464.06 347.88 L464.35 347.67 L464.64 347.45 L464.93 347.22 L465.22 346.99 L465.51 346.75 L465.80 346.51 L466.09 346.27 L466.38 346.02 L466.67 345.76 L466.96 345.51 L467.25 345.24 L467.54 344.98 L467.83 344.71 L468.12 344.43 L468.41 344.15 L468.70 343.87 L468.99 343.58 L469.28 343.29 L469.57 342.99 L469.86 342.69 L470.15 342.39 L470.44 342.08 L470.73 341.77 L471.02 341.46 L471.31 341.14 L471.60 340.82 L471.89 340.50 L472.18 340.17 L472.47 339.84 L472.76 339.50 L472.76 352.40 L473.05 352.40 L473.34 352.40 L473.63 352.40 L473.92 352.40 L474.21 352.40 L474.50 352.40 L474.79 352.40 L475.08 352.40 L475.37 352.40 L475.66 352.40 L475.95 352.40 L476.24 352.40 L476.53 352.40 L476.82 352.40 L477.11 352.40 L477.40 352.40 L477.69 352.40 L477.98 352.40 L478.27 352.40 L478.56 352.40 L478.85 352.40 L479.14 352.40 L479.43 352.40 L479.72 352.40 L480.01 352.40 L480.30 352.40 L480.59 352.40 L480.88 352.40 L481.17 352.40 L481.46 352.40 L481.75 352.40 L482.04 352.40 L482.33 352.40 L482.62 352.40 L482.91 352.40 L483.20 352.40 L483.49 352.40 L483.78 352.40 L484.06 352.40 L484.35 352.40 L484.64 352.40 L484.93 352.40 L485.22 352.40 L485.51 352.40 L485.80 352.40 L486.09 352.40 L486.38 352.40 L486.67 352.40 L486.96 352.40 L487.25 352.40 L487.54 352.40 L487.83 352.40 L488.12 352.40 L488.41 352.40 L488.70 352.40 L488.99 352.40 L489.28 352.40 L489.57 352.40 L489.86 352.40 L490.15 352.40 L490.44 352.40 L490.73 352.40 L491.02 352.40 L491.31 352.40 L491.60 352.40 L491.89 352.40 L492.18 352.40 L492.47 352.40 L492.76 352.40 L493.05 352.40 L493.34 352.40 L493.63 352.40 L493.92 352.40 L494.21 352.40 L494.50 352.40 L494.79 352.40 L495.08 352.40 L495.37 352.40 L495.66 352.40 L495.95 352.40 L496.24 352.40 L496.53 352.40 L496.82 352.40 L497.11 352.40 L497.40 352.40 L497.69 352.40 L497.98 352.40 L498.27 352.40 L498.56 352.40 L498.85 352.40 L499.14 352.40 L499.43 352.40 L499.72 352.40 L500.01 352.40 L500.30 352.40 L500.59 352.40 L500.88 352.40 L501.17 352.40 L501.46 352.40 L501.75 352.40 L502.04 352.40 L502.33 352.40 L502.62 352.40 L502.91 352.40 L503.20 352.40 L503.49 352.40 L503.78 352.40 L504.07 352.40 L504.36 352.40 L504.65 352.40 L504.94 352.40 L505.23 352.40 L505.52 352.40 L505.81 352.40 L506.10 352.40 L506.39 352.40 L506.68 352.40 L506.97 352.40 L507.26 352.40 L507.55 352.40 L507.84 352.40 L508.13 352.40 L508.42 352.40 L508.71 352.40 L508.82 352.40 L508.82 319.03 L509.00 319.03 L509.29 319.03 L509.58 319.03 L509.87 319.03 L510.16 319.03 L510.45 319.03 L510.74 319.03 L511.03 319.03 L511.32 319.03 L511.61 319.03 L511.90 319.03 L512.19 319.03 L512.48 319.03 L512.77 319.03 L513.06 319.03 L513.34 319.03 L513.63 319.03 L513.92 319.03 L514.21 319.03 L514.50 319.03 L514.79 319.03 L515.08 319.03 L515.37 319.03 L515.66 319.03 L515.95 319.03 L516.24 319.03 L516.53 319.03 L516.82 319.03 L517.11 319.03 L517.40 319.03 L517.69 319.03 L517.98 319.03 L518.27 319.03 L518.56 319.03 L518.85 319.03 L519.14 319.03 L519.43 319.03 L519.72 319.03 L520.01 319.03 L520.30 319.03 L520.59 319.03 L520.88 319.03 L521.17 319.03 L521.46 319.03 L521.75 319.03 L522.04 319.03 L522.33 319.03 L522.62 319.03 L522.91 319.03 L523.20 319.03 L523.49 319.03 L523.78 319.03 L524.07 319.03 L524.36 319.03 L524.65 319.03 L524.94 319.03 L525.23 319.03 L525.52 319.03 L525.81 319.03 L526.10 319.03 L526.39 319.03 L526.68 319.03 L526.97 319.03 L527.26 319.03 L527.55 319.03 L527.84 319.03 L528.13 319.03 L528.42 319.03 L528.71 319.03 L529.00 319.03 L529.29 319.03 L529.58 319.03 L529.87 319.03 L530.16 319.03 L530.45 319.03 L530.74 319.03 L531.03 319.03 L531.32 319.03 L531.61 319.03 L531.90 319.03 L532.19 319.03 L532.48 319.03 L532.77 319.03 L533.06 319.03 L533.35 319.03 L533.64 319.03 L533.93 319.03 L534.22 319.03 L534.51 319.03 L534.80 319.03 L535.09 319.03 L535.38 319.03 L535.67 319.03 L535.96 319.03 L536.25 319.03 L536.54 319.03 L536.83 319.03 L537.12 319.03 L537.41 319.03 L537.70 319.03 L537.99 319.03 L538.28 319.03 L538.57 319.03 L538.86 319.03 L539.15 319.03 L539.44 319.03 L539.73 319.03 L540.02 319.03 L540.31 319.03 L540.60 319.03 L540.89 319.03 L541.18 319.03 L541.47 319.03 L541.76 319.03 L542.05 319.03 L542.33 319.03 L542.62 319.03 L542.91 319.03 L543.20 319.03 L543.49 319.03 L543.78 319.03 L544.07 319.03 L544.36 319.03 L544.65 319.03 L544.89 319.03 L544.89 352.40 L544.94 352.40 L545.23 352.40 L545.52 352.40 L545.81 352.40 L546.10 352.40 L546.39 352.40 L546.68 352.40 L546.97 352.40 L547.26 352.40 L547.55 352.40 L547.84 352.40 L548.13 352.40 L548.42 352.40 L548.71 352.40 L549.00 352.40 L549.29 352.40 L549.58 352.40 L549.87 352.40 L550.16 352.40 L550.45 352.40 L550.74 352.40 L551.03 352.40 L551.32 352.40 L551.61 352.40 L551.90 352.40 L552.19 352.40 L552.48 352.40 L552.77 352.40 L553.06 352.40 L553.35 352.40 L553.64 352.40 L553.93 352.40 L554.22 352.40 L554.51 352.40 L554.80 352.40 L555.09 352.40 L555.38 352.40 L555.67 352.40 L555.96 352.40 L556.25 352.40 L556.54 352.40 L556.83 352.40 L557.12 352.40 L557.41 352.40 L557.70 352.40 L557.99 352.40 L558.28 352.40 L558.57 352.40 L558.86 352.40 L559.15 352.40 L559.44 352.40 L559.73 352.40 L560.02 352.40 L560.31 352.40 L560.60 352.40 L560.89 352.40 L561.18 352.40 L561.47 352.40 L561.76 352.40 L562.05 352.40 L562.34 352.40 L562.63 352.40 L562.92 352.40 L563.21 352.40 L563.50 352.40 L563.79 352.40 L564.08 352.40 L564.37 352.40 L564.66 352.40 L564.95 352.40 L565.24 352.40 L565.53 352.40 L565.82 352.40 L566.11 352.40 L566.40 352.40 L566.69 352.40 L566.98 352.40 L567.27 352.40 L567.56 352.40 L567.85 352.40 L568.14 352.40 L568.43 352.40 L568.72 352.40 L569.01 352.40 L569.30 352.40 L569.59 352.40 L569.88 352.40 L570.17 352.40 L570.46 352.40 L570.75 352.40 L571.04 352.40 L571.32 352.40 L571.61 352.40 L571.90 352.40 L572.19 352.40 L572.48 352.40 L572.77 352.40 L573.06 352.40 L573.35 352.40 L573.64 352.40 L573.93 352.40 L574.22 352.40 L574.51 352.40 L574.80 352.40 L575.09 352.40 L575.38 352.40 L575.67 352.40 L575.96 352.40 L576.25 352.40 L576.54 352.40 L576.83 352.40 L577.12 352.40 L577.41 352.40 L577.70 352.40 L577.99 352.40 L578.28 352.40 L578.57 352.40 L578.86 352.40 L579.15 352.40 L579.44 352.40 L579.73 352.40 L580.02 352.40 L580.31 352.40 L580.60 352.40 L580.89 352.40 L580.95 352.40 L580.95 348.94 L581.18 349.09 L581.47 349.27 L581.76 349.45 L582.05 349.62 L582.34 349.79 L582.63 349.96 L582.92 350.11 L583.21 350.27 L583.50 350.42 L583.79 350.56 L584.08 350.70 L584.37 350.83 L584.66 350.96 L584.95 351.08 L585.24 351.19 L585.53 351.31 L585.82 351.41 L586.11 351.51 L586.40 351.61 L586.69 351.70 L586.98 351.78 L587.27 351.86 L587.56 351.94 L587.85 352.00 L588.14 352.07 L588.43 352.13 L588.72 352.18 L589.01 352.22 L589.30 352.27 L589.59 352.30 L589.88 352.33 L590.17 352.36 L590.46 352.38 L590.75 352.39 L591.04 352.40 L591.33 352.40 L591.62 352.40 L591.91 352.40 L592.20 352.40 L592.49 352.40 L592.78 352.40 L593.07 352.40 L593.36 352.40 L593.65 352.40 L593.94 352.40 L594.23 352.40 L594.52 352.40 L594.81 352.40 L595.10 352.40 L595.39 352.40 L595.68 352.40 L595.97 352.40 L596.26 352.40 L596.55 352.40 L596.84 352.40 L597.13 352.40 L597.42 352.40 L597.71 352.40 L598.00 352.40 L598.29 352.40 L598.58 352.40 L598.87 352.40 L599.16 352.40 L599.45 352.40 L599.74 352.40 L600.02 352.40 L600.31 352.40 L600.60 352.40 L600.89 352.40 L601.18 352.40 L601.47 352.40 L601.76 352.40 L602.05 352.40 L602.34 352.40 L602.63 352.40 L602.92 352.40 L603.21 352.40 L603.50 352.40 L603.79 352.40 L604.08 352.40 L604.37 352.40 L604.66 352.40 L604.95 352.40 L605.24 352.40 L605.53 352.40 L605.82 352.40 L606.11 352.40 L606.40 352.40 L606.69 352.40 L606.98 352.40 L607.27 352.40 L607.56 352.40 L607.85 352.40 L608.14 352.40 L608.43 352.40 L608.72 352.40 L609.01 352.40 L609.30 352.40 L609.59 352.40 L609.88 352.40 L610.17 352.40 L610.46 352.40 L610.75 352.40 L611.04 352.40 L611.33 352.40 L611.62 352.40 L611.91 352.40 L612.20 352.40 L612.49 352.40 L612.78 352.40 L613.07 352.40 L613.36 352.40 L613.65 352.40 L613.94 352.40 L614.23 352.40 L614.52 352.40 L614.81 352.40 L615.10 352.40 L615.39 352.40 L615.68 352.40 L615.97 352.40 L616.26 352.40 L616.55 352.40 L616.84 352.40 L617.01 352.40 L617.01 352.40 L617.13 352.40 L617.42 352.40 L617.71 352.40 L618.00 352.40 L618.29 352.40 L618.58 352.40 L618.87 352.40 L619.16 352.40 L619.45 352.40 L619.74 352.40 L620.03 352.40 L620.32 352.40 L620.61 352.40 L620.90 352.40 L621.19 352.40 L621.48 352.40 L621.77 352.40 L622.06 352.40 L622.35 352.40 L622.64 352.40 L622.93 352.40 L623.22 352.40 L623.51 352.40 L623.80 352.40 L624.09 352.40 L624.38 352.40 L624.67 352.40 L624.96 352.40 L625.25 352.40 L625.54 352.40 L625.83 352.40 L626.12 352.40 L626.41 352.40 L626.70 352.40 L626.99 352.40 L627.28 352.40 L627.57 352.40 L627.86 352.40 L628.15 352.40 L628.44 352.40 L628.73 352.40 L629.01 352.40 L629.30 352.40 L629.59 352.40 L629.88 352.40 L630.17 352.40 L630.46 352.40 L630.75 352.40 L631.04 352.40 L631.33 352.40 L631.62 352.40 L631.91 352.40 L632.20 352.40 L632.49 352.40 L632.78 352.40 L633.07 352.40 L633.36 352.40 L633.65 352.40 L633.94 352.40 L634.23 352.40 L634.52 352.40 L634.81 352.40 L635.10 352.40 L635.39 352.40 L635.68 352.40 L635.97 352.40 L636.26 352.40 L636.55 352.40 L636.84 352.40 L637.13 352.40 L637.42 352.40 L637.71 352.40 L638.00 352.40 L638.29 352.40 L638.58 352.40 L638.87 352.40 L639.16 352.40 L639.45 352.40 L639.74 352.40 L640.03 352.40 L640.32 352.40 L640.61 352.40 L640.90 352.40 L641.19 352.40 L641.48 352.40 L641.77 352.40 L642.06 352.40 L642.35 352.40 L642.64 352.40 L642.93 352.40 L643.22 352.40 L643.51 352.40 L643.80 352.40 L644.09 352.40 L644.38 352.40 L644.67 352.40 L644.96 352.40 L645.25 352.40 L645.54 352.40 L645.83 352.40 L646.12 352.40 L646.41 352.40 L646.70 352.40 L646.99 352.40 L647.28 352.40 L647.57 352.40 L647.86 352.40 L648.15 352.40 L648.44 352.40 L648.73 352.40 L649.02 352.40 L649.31 352.40 L649.60 352.40 L649.89 352.40 L650.18 352.40 L650.47 352.40 L650.76 352.40 L651.05 352.40 L651.34 352.40 L651.63 352.40 L651.92 352.40 L652.21 352.40 L652.50 352.40 L652.79 352.40 L653.08 352.40 L653.08 352.40 L653.37 352.40 L653.66 352.40 L653.95 352.40 L654.24 352.40 L654.53 352.40 L654.82 352.40 L655.11 352.40 L655.40 352.40 L655.69 352.40 L655.98 352.40 L656.27 352.40 L656.56 352.40 L656.85 352.40 L657.14 352.40 L657.43 352.40 L657.72 352.40 L658.00 352.40 L658.29 352.40 L658.58 352.40 L658.87 352.40 L659.16 352.40 L659.45 352.40 L659.74 352.40 L660.03 352.40 L660.32 352.40 L660.61 352.40 L660.90 352.40" fill="none" stroke="#EDB120" stroke-width="2.0" stroke-linejoin="round" stroke-dasharray="6 1.8 2.8 1.8" stroke-linecap="butt"/>
<rect x="557.5" y="279.5" width="123.90" height="35.30" fill="#fff" stroke="#262626" stroke-width="0.5"/>
<line x1="560.8" y1="286.5" x2="592.2" y2="286.5" stroke="#3f8dc3" stroke-width="0.8"/>
<line x1="560.8" y1="297.3" x2="592.2" y2="297.3" stroke="#D95319" stroke-width="1.15"/>
<line x1="560.8" y1="308.6" x2="592.2" y2="308.6" stroke="#EDB120" stroke-width="2.0" stroke-dasharray="6 1.8 2.8 1.8"/>
<text x="594.4" y="287.30" font-size="8.0" dominant-baseline="central">Power Consumption</text>
<text x="594.4" y="298.10" font-size="8.0" dominant-baseline="central">Green Power</text>
<text x="594.4" y="309.40" font-size="8.0" dominant-baseline="central">Absorbed Green Power</text>
<text transform="translate(365.80 313.00) rotate(-90)" font-size="9.8" text-anchor="middle">Power(kW)</text>
<text x="527.55" y="377.00" font-size="9.8" text-anchor="middle">Time(h)</text>
<text x="416.48" y="393.90" class="cap" font-size="13.8" textLength="217.53" lengthAdjust="spacing">(f) Average power of oil pumping unit</text>
</svg>
</body></html>
